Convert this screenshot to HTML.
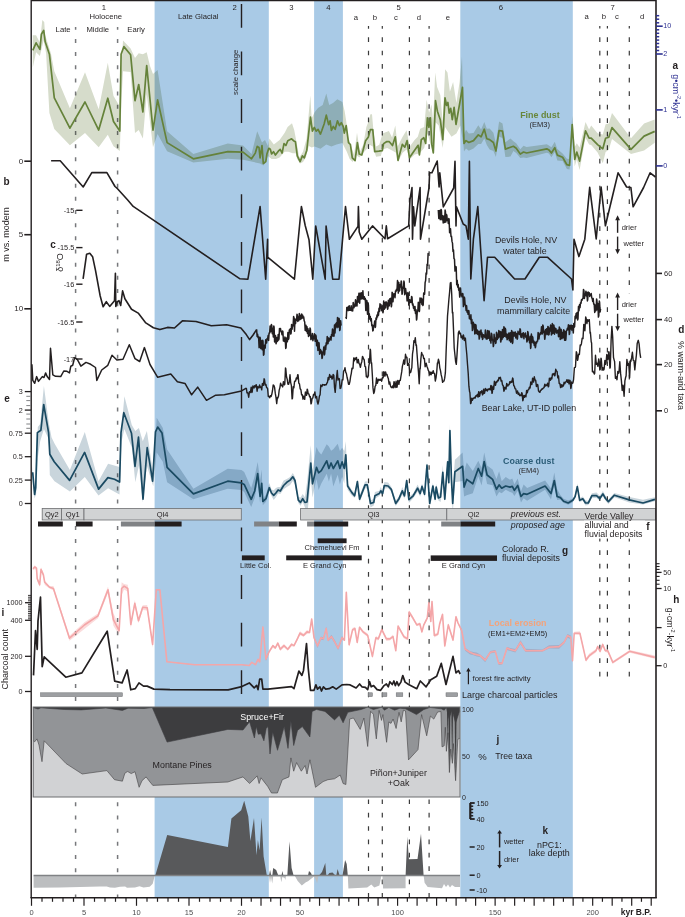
<!DOCTYPE html>
<html><head><meta charset="utf-8"><style>
html,body{margin:0;padding:0;background:#fff;}
svg{display:block;font-family:"Liberation Sans",sans-serif;}
</style></head><body>
<svg width="685" height="917" viewBox="0 0 685 917">
<rect x="0" y="0" width="685" height="917" fill="#ffffff" />
<rect x="154.6" y="0.5" width="114.20000000000002" height="896.8" fill="#a9cae6" />
<rect x="314.1" y="0.5" width="28.799999999999955" height="896.8" fill="#a9cae6" />
<rect x="460.3" y="0.5" width="112.49999999999994" height="896.8" fill="#a9cae6" />
<line x1="75.6" y1="27.1" x2="75.6" y2="897.5" stroke="#77787b" stroke-width="1.5" stroke-dasharray="4 9.163" stroke-dashoffset="1.36"/>
<line x1="117.6" y1="27.1" x2="117.6" y2="897.5" stroke="#77787b" stroke-width="1.5" stroke-dasharray="4 9.163" stroke-dashoffset="1.36"/>
<line x1="368.5" y1="26" x2="368.5" y2="897.5" stroke="#3a3a3a" stroke-width="1.2" stroke-dasharray="4.7 8.67" stroke-dashoffset="2.07"/>
<line x1="382.3" y1="26" x2="382.3" y2="897.5" stroke="#3a3a3a" stroke-width="1.2" stroke-dasharray="4.7 8.67" stroke-dashoffset="2.07"/>
<line x1="409.4" y1="26" x2="409.4" y2="897.5" stroke="#3a3a3a" stroke-width="1.2" stroke-dasharray="4.7 8.67" stroke-dashoffset="2.07"/>
<line x1="429.1" y1="26" x2="429.1" y2="897.5" stroke="#3a3a3a" stroke-width="1.2" stroke-dasharray="4.7 8.67" stroke-dashoffset="2.07"/>
<line x1="599.8" y1="26" x2="599.8" y2="677" stroke="#3a3a3a" stroke-width="1.2" stroke-dasharray="4.7 8.8" stroke-dashoffset="2.2"/>
<line x1="607.4" y1="26" x2="607.4" y2="677" stroke="#3a3a3a" stroke-width="1.2" stroke-dasharray="4.7 8.8" stroke-dashoffset="2.2"/>
<line x1="629.3" y1="26" x2="629.3" y2="677" stroke="#3a3a3a" stroke-width="1.2" stroke-dasharray="4.7 8.8" stroke-dashoffset="2.2"/>
<line x1="241.5" y1="3.9" x2="241.5" y2="707" stroke="#231f20" stroke-width="1.4" stroke-dasharray="23.8 23.8"/>
<g style="mix-blend-mode:multiply">
<polygon points="32.8,35.2 36.1,35.2 39.9,42.8 42.3,20.0 44.2,21.9 45.2,35.2 50.9,53.2 54.3,71.2 69.9,108.3 85.0,72.2 98.7,109.2 107.8,62.7 113.5,95.9 119.2,105.4 121.0,75.0 123.0,40.5 130.6,48.5 135.0,58.0 138.7,53.2 142.9,54.2 146.7,52.3 150.0,66.0 153.0,74.0 157.6,70.0 167.1,131.2 193.3,154.0 227.8,143.6 243.0,145.5 251.5,154.0 257.2,131.2 262.0,142.6 265.0,140.0 267.9,145.9 269.4,138.6 273.8,144.5 279.6,140.1 284.7,132.8 287.6,126.9 292.0,123.3 294.2,129.9 296.4,141.5 299.3,157.6 303.0,151.8 306.6,138.6 310.3,95.5 311.7,118.2 314.6,112.3 318.0,108.0 322.7,105.0 326.3,93.4 329.2,105.0 333.0,103.0 337.3,99.2 342.4,102.1 344.6,110.9 346.0,119.6 348.2,137.2 351.1,145.9 354.1,154.7 357.0,132.8 359.9,151.8 363.2,144.7 366.4,127.1 368.8,120.7 370.4,114.2 372.0,114.2 373.7,133.5 376.1,146.4 379.3,144.7 382.5,133.5 388.9,131.1 392.1,137.5 395.3,125.5 397.7,146.4 402.6,136.7 406.6,130.3 409.8,146.4 414.6,139.9 417.8,136.7 420.2,128.7 424.2,127.1 426.6,99.8 429.1,112.6 431.5,104.6 433.1,120.7 435.2,72.5 437.1,86.9 440.3,95.0 442.7,122.3 445.1,69.3 447.5,72.5 449.9,91.8 453.1,82.1 456.4,103.0 459.6,82.1 462.0,56.4 463.6,127.1 464.0,134.6 466.0,129.7 468.8,133.5 473.5,133.0 478.3,125.3 481.1,129.6 484.3,122.0 486.8,128.8 489.6,128.4 493.4,132.8 495.9,143.5 499.1,121.4 502.5,123.5 505.4,142.2 510.5,138.5 513.4,141.3 516.2,143.2 520.3,149.2 523.5,145.8 526.6,147.1 546.8,144.3 548.9,145.4 551.4,147.3 554.8,141.8 557.3,149.0 562.6,153.5 566.9,158.7 569.6,159.1 572.2,115.8 574.7,146.9 576.8,143.3 579.6,147.5 585.5,121.9 589.1,129.4 591.2,125.6 597.6,133.3 602.8,134.4 605.6,124.3 608.8,123.5 612.0,113.0 631.0,138.3 644.1,123.5 654.7,119.4 654.7,142.8 644.1,150.4 631.0,154.0 612.0,139.1 608.8,149.7 605.6,152.1 602.8,163.3 597.6,152.4 591.2,144.9 589.1,144.4 585.5,137.8 579.6,170.1 576.8,159.3 574.7,166.5 572.2,133.0 569.6,169.6 566.9,169.1 562.6,161.1 557.3,160.4 554.8,151.9 551.4,157.3 548.9,153.4 546.8,152.7 526.6,158.0 523.5,157.6 520.3,158.1 516.2,153.1 513.4,151.1 510.5,156.6 505.4,157.0 502.5,138.1 499.1,136.7 495.9,157.1 493.4,151.0 489.6,149.5 486.8,144.9 484.3,138.4 481.1,144.0 478.3,144.1 473.5,148.6 468.8,150.8 466.0,148.5 464.0,151.6 463.6,146.4 460.4,125.5 456.4,133.5 451.5,136.7 448.3,131.9 445.1,127.1 442.7,148.0 438.7,125.5 435.5,122.3 433.1,152.8 430.7,144.7 427.4,133.5 424.2,148.0 419.4,153.6 414.6,154.4 409.8,159.2 406.6,149.6 402.6,152.8 398.5,160.8 396.1,152.8 392.1,150.4 387.3,148.0 382.5,149.6 380.9,156.0 376.1,156.8 372.8,146.4 369.6,144.7 366.4,149.6 363.2,152.8 359.2,157.6 356.2,154.7 352.6,162.0 349.7,159.0 346.8,151.8 342.4,143.0 336.5,144.5 331.4,146.6 326.3,144.5 320.5,148.8 314.6,146.6 311.7,147.4 308.8,145.9 305.9,157.6 303.0,162.0 300.0,163.4 297.1,159.0 295.7,153.2 292.7,153.2 288.4,151.8 284.7,151.8 279.6,157.6 276.0,159.0 271.6,159.0 267.9,156.1 265.0,163.4 263.3,165.4 260.1,163.5 251.5,161.6 243.0,159.7 227.8,158.8 193.3,162.6 167.1,151.2 157.6,134.1 153.0,147.2 146.7,94.0 142.9,138.6 138.7,130.1 135.0,132.9 130.6,72.0 123.0,71.2 121.5,100.0 119.8,151.0 113.5,146.2 107.8,134.8 98.7,147.2 85.0,132.9 69.9,145.3 54.3,129.1 49.4,113.0 46.1,53.2 43.7,39.9 39.9,56.1 36.1,52.3 32.8,67.4" fill="#d6dccb" />
</g>
<polyline points="32.8,50.4 36.1,42.8 39.9,49.4 41.4,34.2 43.7,30.4 45.2,41.8 49.4,54.2 54.3,97.8 69.9,128.2 85.0,102.0 98.7,130.1 107.8,98.2 113.5,121.5 119.8,131.0 121.1,54.2 123.9,46.6 130.6,54.7 135.0,100.7 138.7,84.5 142.9,112.0 146.7,65.5 153.0,130.1 157.6,99.9 167.1,142.6 193.3,158.8 227.8,151.6 243.0,152.1 251.5,158.8 255.3,153.1 257.2,146.4 259.0,147.5 260.1,157.8 262.0,145.5 263.3,163.5 265.8,161.6 266.9,154.0 268.8,148.3 270.3,149.3 271.6,154.0 273.5,151.7 275.4,155.0 278.3,151.2 280.2,149.3 282.1,153.1 284.0,143.6 285.9,145.5 287.8,140.7 289.7,139.8 291.6,138.8 293.5,140.7 295.4,141.7 297.3,155.9 300.1,161.6 302.4,155.9 304.3,157.8 306.8,150.2 310.5,117.0 312.4,131.2 314.3,127.4 316.2,131.2 318.1,129.3 320.4,134.1 321.9,130.3 324.2,123.7 326.3,115.1 328.6,124.6 330.1,120.8 331.4,130.3 333.3,126.5 335.2,129.3 337.5,120.8 339.4,125.5 341.3,122.7 343.2,126.5 344.3,133.1 346.2,125.5 348.5,142.6 350.4,144.5 352.3,157.8 355.1,160.7 357.4,142.6 359.3,154.0 361.8,155.0 365.6,140.7 368.4,136.9 370.3,129.7 372.8,129.7 374.7,151.7 378.9,151.2 382.3,150.6 383.6,143.6 386.5,141.7 389.3,141.7 392.5,145.5 395.3,136.8 398.0,160.5 402.3,144.4 404.8,147.2 407.1,140.6 409.4,157.7 418.1,145.3 419.4,154.8 421.3,139.6 423.8,137.7 425.7,143.4 427.4,117.8 428.9,127.3 430.4,117.8 431.8,144.4 433.3,152.9 435.5,100.7 437.4,111.2 440.3,119.7 442.8,139.6 445.0,97.9 446.6,105.5 447.9,102.5 449.2,113.1 450.7,108.3 452.3,119.7 454.1,107.4 456.0,124.5 462.5,87.4 464.0,143.4 466.0,140.6 468.8,142.5 473.5,140.6 478.3,134.9 481.1,136.8 484.3,129.2 486.8,138.7 489.6,139.6 493.4,142.5 495.9,151.0 499.1,130.5 502.5,131.1 505.4,149.1 510.5,147.2 513.4,146.3 516.2,148.2 520.3,154.1 523.5,152.0 526.6,153.0 546.8,148.8 548.9,149.9 551.4,153.0 554.8,147.7 557.3,155.1 562.6,157.3 566.9,164.7 569.6,165.3 572.2,124.5 574.7,159.4 576.8,152.0 579.6,161.1 585.5,130.8 589.1,138.2 591.2,138.2 597.6,144.6 602.8,148.8 605.6,138.2 608.8,137.2 612.0,127.6 631.0,149.4 644.1,136.1 654.7,131.4" fill="none" stroke="#65823a" stroke-width="1.7" stroke-linejoin="round" />
<polyline points="51.1,160.8 60.2,160.8 83.2,187.0 91.8,172.6 106.9,172.6 115.0,186.5 117.5,188.7 127.7,200.0 133.2,206.4 240.0,278.8 247.9,279.2 260.1,206.5 265.7,279.2 267.6,239.3 267.6,257.2 294.4,279.2 301.4,206.5 305.2,225.5 309.0,239.7 312.8,279.2 315.7,226.0 325.2,279.2 326.1,226.0 332.7,279.2 339.0,279.2 345.5,206.5 349.4,239.3 358.0,226.4 358.4,206.5 359.2,232.0 361.8,239.3 372.5,225.9 385.0,238.8 386.3,225.9 387.6,238.8 408.7,225.9 410.0,199.3 412.0,187.6 412.5,239.2 413.5,206.9 414.8,225.9 420.1,187.6 420.5,239.2 429.0,188.0 429.6,172.8 431.9,172.8 437.2,161.0 439.1,187.0 439.8,172.8 443.3,206.9 453.7,188.0 455.0,161.4 456.0,225.9 456.5,206.9 463.2,224.0 466.0,225.9 468.3,239.2 469.4,161.4 470.8,279.0 473.4,239.2 477.8,206.6 484.1,300.8 487.5,257.2 494.7,257.2 514.6,279.0 525.0,279.0 539.3,257.2 547.4,257.2 571.5,279.0 572.9,290.0 574.0,239.2 578.9,256.6 584.8,239.2 589.7,187.3 596.2,239.0 601.1,187.0 605.4,225.8 618.1,172.8 626.6,187.0 630.9,187.5 633.1,206.8 643.6,187.5 650.1,172.8 655.5,177.0" fill="none" stroke="#231f20" stroke-width="1.6" stroke-linejoin="round" />
<polyline points="83.1,278.9 86.6,254.2 89.8,253.3 92.6,256.7 95.5,270.4 100.2,296.0 103.1,306.8 106.3,301.7 109.7,306.4 114.5,300.7 115.4,273.2 115.8,306.4 117.3,301.7 119.0,300.7 120.7,305.5 122.6,290.9 124.9,298.8 131.5,309.3 138.2,313.1 145.8,322.9 153.4,327.7 159.9,329.6 167.5,327.4 174.5,328.0 182.4,320.8 196.0,321.5 211.3,325.8 226.6,324.7 240.9,328.0 246.3,334.6 249.6,339.6 252.9,335.3 256.6,329.6" fill="none" stroke="#231f20" stroke-width="1.6" stroke-linejoin="round" />
<polyline points="256.6,329.4 257.1,336.5 257.6,334.3 258.1,337.6 258.6,336.9 259.1,347.8 259.5,346.9 260.0,337.3 260.3,338.2 260.8,348.6 261.3,340.5 261.7,341.2 262.2,349.8 262.7,340.2 263.0,341.3 263.5,355.3 263.9,354.4 264.4,345.2 264.7,345.8 265.2,348.1 265.7,339.8 266.1,340.5 266.6,342.9 267.1,338.4 267.6,339.1 268.1,335.5 268.6,340.4 269.1,332.9 269.6,333.2 270.1,326.1 270.4,326.8 270.9,331.7 271.4,324.6 271.8,325.6 272.3,333.8 272.8,328.6 273.3,337.0 273.8,326.0 274.1,327.2 274.6,341.9 275.0,340.9 275.5,335.6 276.0,343.8 276.3,342.7 276.8,337.5 277.3,341.5 277.7,340.8 278.2,334.4 278.7,339.9 279.0,338.9 279.5,328.4 280.0,329.7 280.5,328.5 281.0,331.7 281.5,331.9 282.0,334.7 282.5,330.9 282.9,331.7 283.4,341.0 283.9,339.1 284.4,341.4 284.9,337.1 285.2,337.7 285.7,348.4 286.1,347.4 286.6,338.0 287.1,342.0 287.4,341.4 287.9,332.6 288.4,339.4 288.8,338.5 289.3,330.1 289.8,330.6 290.3,328.7 290.8,334.1 291.1,333.3 291.6,324.4 292.1,329.2 292.6,325.2 293.1,325.8 293.6,316.6 294.0,317.7 294.5,331.3 295.0,319.0 295.5,323.6 296.0,319.3 296.5,320.4 297.0,314.3 297.3,315.1 297.8,321.5 298.3,316.9 298.8,320.6 299.3,313.6 299.7,314.3 300.2,319.5 300.7,316.1 301.2,318.8 301.7,314.1 302.2,317.9 302.7,315.3 303.2,317.9 303.7,317.0 304.2,320.8 304.7,322.0 305.2,330.4 305.5,329.4 306.0,325.3 306.5,331.4 307.0,326.8 307.5,333.4 308.0,328.7 308.5,336.5 309.0,330.7 309.5,335.4 310.0,328.0 310.4,329.1 310.9,339.6 311.4,335.9 311.9,338.8 312.4,333.6 312.9,340.7 313.4,336.6 313.9,338.7 314.4,333.7 314.7,334.5 315.2,341.3 315.7,335.0 316.1,336.0 316.6,345.7 317.1,340.1 317.4,340.7 317.9,350.4 318.3,349.7 318.8,342.5 319.1,343.2 319.6,354.3 320.0,353.4 320.5,349.5 321.0,352.7 321.5,351.2 322.0,358.5 322.3,357.7 322.8,351.9 323.3,352.2 323.8,347.0 324.3,354.9 324.7,354.0 325.2,345.8 325.7,349.5 326.2,342.8 326.7,344.8 327.2,336.5 327.5,337.5 328.0,343.6 328.5,337.9 329.0,341.2 329.5,338.8 330.0,339.4 330.5,336.7 331.0,340.1 331.5,334.5 332.0,335.5 332.5,329.0 333.0,336.3 333.5,330.3 334.0,336.1 334.5,325.1 335.0,333.0 335.5,324.1 336.0,324.2 336.5,322.7 337.0,327.7 337.5,317.5 337.9,318.4 338.4,327.0 338.9,318.2 339.2,318.9 339.7,330.6 340.1,329.4 340.6,320.7 341.1,325.6" fill="none" stroke="#231f20" stroke-width="1.5" stroke-linejoin="round" />
<polyline points="345.8,316.8 346.3,318.4 346.8,307.4 347.2,308.4 347.7,310.6 348.2,306.7 348.7,310.5 349.2,305.7 349.7,310.2 350.2,308.3 350.7,310.3 351.2,305.7 351.7,310.7 352.2,309.4 352.7,310.9 353.2,302.6 353.5,303.5 354.0,307.7 354.5,305.0 355.0,306.3 355.5,299.7 356.0,305.7 356.5,301.2 357.0,306.0 357.5,296.4 357.9,297.2 358.4,302.1 358.9,293.2 359.2,294.4 359.7,303.2 360.2,293.1 360.6,294.1 361.1,299.1 361.6,292.7 361.9,293.4 362.4,298.4 362.9,290.7 363.4,299.1 363.8,298.3 364.3,296.7 364.8,299.7 365.3,298.5 365.8,310.5 366.1,309.3 366.6,300.2 367.0,301.1 367.5,314.3 368.0,302.8 368.3,304.0 368.8,317.9 369.3,313.8 369.8,319.3 370.3,316.5 370.8,321.0 371.3,318.8 371.8,325.8 372.3,325.0 372.8,330.9 373.2,330.3 373.7,325.2 374.2,325.2 374.7,321.0 375.2,327.5 375.5,326.7 376.0,318.1 376.5,319.2 377.0,315.1 377.5,316.9 378.0,312.0 378.5,315.2 379.0,308.3 379.5,311.4 380.0,303.8 380.5,308.0 381.0,304.7 381.5,310.7 381.9,310.1 382.4,306.2 382.9,312.7 383.2,311.7 383.7,300.9 384.2,309.3 384.6,308.7 385.1,302.6 385.6,307.8 386.1,301.8 386.6,304.5 387.1,302.9 387.6,309.2 387.9,308.3 388.4,300.3 388.9,306.1 389.3,305.5 389.8,298.8 390.3,303.5 390.8,298.2 391.3,306.8 391.6,305.7 392.1,292.2 392.5,293.1 393.0,301.7 393.5,294.0 394.0,296.5 394.5,293.7 395.0,297.7 395.5,291.0 396.0,291.5 396.5,289.2 397.0,290.1 397.5,280.6 397.8,281.7 398.3,293.1 398.8,282.4 399.3,291.1 399.7,290.5 400.2,284.4 400.7,287.1 401.2,281.0 401.5,281.8 402.0,294.2 402.4,293.0 402.9,286.9 403.4,288.2 403.9,281.1 404.2,282.2 404.7,294.7 405.1,293.8 405.6,288.5 406.1,292.9 406.6,293.1 407.1,300.9 407.4,300.0 407.9,292.6 408.3,293.3 408.8,305.1 409.1,304.2 409.6,299.8 410.1,302.3 410.6,300.0 411.1,302.6 411.6,296.4 412.0,297.3 412.5,305.0 413.0,304.0 413.5,308.2 414.0,306.4 414.5,310.5 415.0,306.5 415.5,313.5 416.0,309.8 416.5,320.0 416.8,319.0 417.3,311.3 417.8,310.7 418.3,302.2 418.7,303.2 419.2,311.6 419.5,310.9 420.0,297.9 420.4,298.8 420.9,302.6 421.4,298.3 421.9,304.4 422.4,299.2 422.9,305.6 423.2,304.7 423.7,293.0 424.1,293.6 424.6,294.2 425.1,282.7 425.6,280.6 426.1,272.9 426.6,274.0 427.1,264.2 427.6,265.4 428.1,253.5 428.4,254.5" fill="none" stroke="#231f20" stroke-width="1.5" stroke-linejoin="round" />
<polyline points="438.3,210.0 438.8,218.5 439.2,217.6 439.7,210.6 440.2,219.8 440.5,219.0 441.0,209.4 441.4,210.2 441.9,219.8 442.2,219.2 442.7,215.8 443.2,223.0 443.6,222.0 444.1,215.9 444.6,222.5 445.1,210.1 445.4,211.3 445.9,221.9 446.4,214.5 446.8,215.1 447.3,220.4 447.8,219.2 448.3,223.4 448.8,218.6 449.1,219.2 449.6,232.8 450.0,231.8 450.5,228.8 451.0,236.5 451.5,236.2 452.0,241.4 452.5,243.1 453.0,251.5 453.5,250.0 454.0,258.6 454.5,259.2 455.0,271.1 455.3,270.2 455.8,266.4 456.2,267.4 456.7,284.7 457.2,280.2 457.7,287.1 458.2,284.6 458.7,290.3 459.2,288.1 459.7,297.1 460.0,296.1 460.5,288.1 461.0,294.0 461.5,294.8 462.0,296.8 462.5,293.4 462.9,294.0 463.4,306.6 463.7,305.6 464.2,297.1 464.6,297.8 465.1,304.8 465.6,304.9 466.1,310.5 466.6,305.8 467.1,312.3 467.6,310.7 468.1,314.3 468.6,310.4 468.9,311.0 469.4,318.6 469.9,318.3 470.4,319.5 470.9,314.8 471.4,323.6 471.9,319.5 472.4,330.6 472.8,329.5 473.3,322.3 473.8,326.3 474.3,324.3 474.8,333.9 475.1,333.0 475.6,324.6 476.0,325.2 476.5,333.6 476.8,332.9 477.3,330.0 477.8,334.5 478.2,333.9 478.7,331.2 479.2,339.1 479.5,338.0 480.0,331.3 480.5,334.3 481.0,330.0 481.5,337.0 482.0,333.1 482.5,339.5 482.9,338.7 483.4,334.8 483.9,335.5 484.4,335.0 484.9,337.6 485.4,330.1 485.7,331.0 486.2,338.9 486.7,336.2 487.2,338.9 487.7,330.4 488.1,331.5 488.6,338.3 489.1,331.0 489.4,332.1 489.9,340.6 490.4,337.2 490.9,343.1 491.4,333.3 491.8,334.2 492.3,340.1 492.8,339.7 493.3,346.6 493.6,345.6 494.1,334.3 494.6,341.3 495.1,338.1 495.6,343.5 496.0,342.8 496.5,332.3 496.8,333.2 497.3,339.5 497.8,334.6 498.3,338.0 498.8,330.5 499.2,331.5 499.7,336.9 500.2,331.6 500.7,342.0 501.0,341.0 501.5,332.0 502.0,339.5 502.5,329.4 503.0,337.7 503.4,337.0 503.9,326.7 504.2,327.8 504.7,336.2 505.2,328.2 505.6,329.2 506.1,337.2 506.6,334.1 507.1,339.7 507.4,339.1 507.9,334.3 508.4,338.4 508.9,332.9 509.4,340.7 509.8,340.0 510.3,332.8 510.8,342.2 511.1,341.3 511.6,330.6 512.0,331.4 512.5,343.4 512.8,342.3 513.3,332.3 513.8,336.0 514.3,332.5 514.8,336.1 515.3,331.9 515.8,337.9 516.2,337.3 516.7,333.6 517.2,339.3 517.5,338.5 518.0,331.2 518.5,333.7 519.0,333.0 519.5,334.6 520.0,328.8 520.4,329.6 520.9,337.1 521.4,334.1 521.9,337.6 522.4,333.5 522.9,335.8 523.4,332.7 523.9,338.8 524.4,334.2 524.9,336.0 525.4,333.0 525.9,337.3 526.4,336.0 526.9,342.0 527.2,341.3 527.7,331.5 528.1,332.5 528.6,339.9 529.1,338.4 529.6,342.8 530.1,336.2 530.6,348.4 530.9,347.2 531.4,334.1 531.9,342.3 532.4,336.5 532.8,337.4 533.3,343.1 533.8,341.0 534.3,345.5 534.8,342.2 535.3,347.7 535.6,347.0 536.1,342.0 536.6,343.0 537.1,341.1 537.6,341.1 538.1,332.5 538.5,333.6 539.0,339.0 539.5,334.2 540.0,334.7 540.5,332.5 541.0,333.9 541.5,326.7 541.8,327.7 542.3,333.9 542.8,325.0 543.2,326.1 543.7,332.6 544.2,331.1 544.7,339.2 545.0,338.1 545.5,329.7 546.0,333.7 546.5,328.8 547.0,334.7 547.4,334.1 547.9,326.4 548.2,326.9 548.7,335.0 549.1,334.3 549.6,328.0 550.1,330.9 550.6,325.1 550.9,325.9 551.4,335.0 551.8,334.3 552.3,323.6 552.6,324.6 553.1,333.3 553.6,324.9 554.0,325.8 554.5,334.2 555.0,328.0 555.5,332.0 556.0,328.8 556.5,333.1 557.0,330.7 557.5,332.7 558.0,330.0 558.5,336.8 558.8,336.1 559.3,327.0 559.7,328.1 560.2,339.5 560.5,338.9 561.0,329.2 561.4,330.3 561.9,338.7 562.4,332.6 562.7,333.3 563.2,337.8 563.7,329.7 564.1,330.6 564.6,340.2 565.1,331.6 565.6,340.2 565.9,339.0 566.4,330.9 566.9,330.2 567.4,328.3 567.9,329.7 568.4,324.8 568.8,325.5 569.3,334.6 569.6,333.8 570.1,325.2 570.5,325.8 571.0,329.0 571.5,325.3 572.0,330.4 572.5,324.9" fill="none" stroke="#231f20" stroke-width="1.5" stroke-linejoin="round" />
<polyline points="572.8,325.5 573.3,333.0 573.8,323.5 574.3,327.2 574.6,326.6 575.1,316.2 575.6,318.6 576.1,313.5 576.6,317.8 577.1,312.5 577.6,319.9 578.0,318.7 578.5,306.4 579.0,310.8 579.5,304.7 580.0,307.6 580.5,302.8 581.0,303.3 581.5,299.7 582.0,300.2 582.5,298.7 583.0,298.5 583.5,289.4 583.9,290.6 584.4,298.5 584.9,294.8 585.4,295.4 585.9,291.3 586.4,295.9 586.9,292.5 587.4,300.9 587.7,299.8 588.2,291.9 588.7,294.0 589.2,292.7 589.7,296.4 590.2,294.4 590.7,295.2 591.2,293.5 591.7,297.7 592.2,298.4 592.7,301.5 593.2,298.5 593.7,304.1 594.2,304.0 594.7,312.4 595.2,305.1 595.7,310.9 596.1,310.2 596.6,298.9 596.9,300.2 597.4,309.8 597.9,303.6 598.4,317.1 598.8,315.8 599.3,301.1 599.6,302.3 600.1,312.0 600.6,309.0" fill="none" stroke="#231f20" stroke-width="1.5" stroke-linejoin="round" />
<polyline points="31.9,364.3 32.8,380.4 34.7,383.3 36.6,376.6 38.5,381.4 42.3,376.6 44.0,377.5 45.6,372.9 47.0,376.3 49.5,379.5 50.5,348.2 52.8,374.8 55.6,376.3 60.7,376.6 63.8,371.0 67.0,371.3 69.5,372.9 70.8,366.2 72.7,365.3 74.6,357.7 77.4,359.6 80.9,366.2 86.0,362.4 90.7,364.3 95.5,367.5 96.8,380.4 101.7,370.0 107.8,365.3 112.0,355.2 116.9,360.0 123.0,359.2 129.3,344.8 135.0,358.6 139.7,361.5 144.4,347.6 150.0,364.5 157.7,377.3 170.8,374.0 177.4,381.7 185.0,383.4 191.6,394.8 197.7,387.1 206.5,400.3 215.7,395.2 224.4,394.8 241.5,390.9 246.3,388.2" fill="none" stroke="#231f20" stroke-width="1.5" stroke-linejoin="round" />
<polyline points="246.3,387.8 247.0,392.9 247.7,392.8 248.0,393.4 248.7,397.2 249.4,391.8 250.1,392.6 250.5,392.0 251.2,387.1 251.9,392.5 252.2,392.0 252.9,385.9 253.3,386.5 254.0,388.0 254.7,385.7 255.4,387.0 256.1,384.6 256.4,385.1 257.1,391.2 257.8,386.6 258.2,387.1 258.9,387.9 259.6,384.9 260.3,387.3 261.0,387.0 261.7,389.8 262.4,383.5 262.7,384.1 263.4,385.3 264.1,378.8 264.5,379.5 265.2,385.1 265.9,384.4 266.6,387.7 267.3,388.0 267.6,388.5 268.3,396.5 269.0,396.3 269.7,397.8 270.4,395.6 271.1,396.5 271.8,394.3 272.5,390.5 273.2,384.9 273.9,385.6 274.6,387.6 275.3,393.4 276.0,397.4 276.7,403.6 277.4,397.5 277.8,398.1 278.5,396.2 279.2,390.1 279.9,387.6 280.6,383.1 281.3,385.5 282.0,385.2 282.7,386.9 283.4,381.6 283.7,382.2 284.4,384.9 284.8,384.2 285.5,367.9 285.8,368.7 286.5,376.8 287.2,379.2 287.9,384.1 288.6,384.2 289.3,381.9 290.0,374.7 290.7,382.6 291.4,385.7 292.1,398.9 292.5,398.1 293.2,386.7 293.9,387.8 294.6,381.1 294.9,381.5 295.6,381.0 296.3,377.9 297.0,378.9 297.7,374.6 298.1,375.0 298.8,383.1 299.5,384.0 300.2,388.8 300.9,389.7 301.6,394.8 302.3,394.8 303.0,399.2 303.7,396.2 304.0,396.6 304.7,399.4 305.4,392.0 305.8,392.7 306.5,395.4 307.2,389.2 307.5,389.6 308.2,393.9 308.9,393.9 309.6,396.9 310.3,396.6 311.0,403.9 311.4,403.1 312.1,398.3 312.8,398.1 313.5,394.4 314.2,394.7 314.9,391.9 315.6,397.9 315.9,397.2 316.6,396.4 317.3,401.7 318.0,404.0 318.7,401.1 319.4,396.2 320.1,394.6 320.8,385.0 321.2,385.7 321.9,386.4 322.6,384.5 323.3,385.0 324.0,384.6 324.7,385.2 325.4,384.6 326.1,384.9 326.8,383.4 327.5,382.1 328.2,377.4 328.9,379.7 329.6,374.5 329.9,375.1 330.6,377.4 331.3,376.1 332.0,379.1 332.4,378.7 333.1,374.5 333.8,375.2 334.5,387.2 335.2,392.4 335.9,383.8 336.6,376.8 337.3,370.5 338.0,380.1 338.3,379.3 339.0,378.6 339.4,379.0 340.1,388.5 340.8,388.1 341.5,384.8 342.2,379.7 342.9,379.8 343.6,371.1 344.3,370.4 345.0,367.8 345.7,372.1 346.4,373.5 347.1,377.5 347.8,380.2 348.5,384.2 349.2,384.2 349.9,381.6 350.6,376.6 351.3,373.3 352.0,368.2 352.7,368.7 353.0,368.1 353.7,358.0 354.4,360.8 355.1,358.0 355.8,359.3 356.5,357.5 357.2,362.8 357.6,362.2 358.3,359.4 359.0,363.6 359.7,364.3 360.4,367.3 361.1,363.8 361.8,361.7 362.5,356.4 362.8,356.8 363.5,358.8 364.2,359.7 364.9,366.4 365.6,366.9 366.3,376.6 366.7,376.0 367.4,377.6 368.1,376.2 368.8,366.4 369.5,362.4 370.2,349.3 370.5,350.0 371.2,363.5 371.6,362.9 372.3,374.2 373.0,387.9 373.7,393.5 374.4,391.7 375.1,386.4 375.8,385.4 376.5,378.0 377.2,383.3 377.5,382.8 378.2,379.3 378.9,380.4 379.6,379.4 380.3,380.3 381.0,379.0 381.7,381.2 382.4,377.6 383.1,377.8 383.8,371.6 384.2,372.3 384.9,376.2 385.6,371.9 386.3,374.9 387.0,374.4 387.7,377.1 388.4,378.8 389.1,384.1 389.8,382.0 390.5,386.0 391.2,387.3 391.9,387.8 392.6,386.0 393.3,387.8 394.0,381.6 394.3,382.1 395.0,387.5 395.4,386.9 396.1,381.3 396.8,387.3 397.1,386.8 397.8,380.4 398.2,381.0 398.9,384.4 399.6,380.4 400.3,380.3 401.0,376.0 401.7,371.9 402.4,366.1 403.1,363.6 403.8,360.0 404.5,364.2 404.8,363.4 405.5,354.3 406.2,357.5 406.9,357.2 407.6,365.4 408.0,365.0 408.7,363.5 409.0,364.1 409.7,373.2 410.4,371.6 410.8,372.2 411.5,368.5 411.8,368.0 412.5,354.0 413.2,349.4 413.9,340.8 414.6,342.4 415.3,337.7 416.0,345.5 416.4,344.8 417.1,354.5 417.8,364.1 418.5,372.4 419.2,383.7 419.9,368.3 420.2,368.9 420.9,358.6 421.6,352.5 422.3,354.9 423.0,355.2 423.7,358.6 424.4,358.5 425.1,366.7 425.5,365.9 426.2,363.2 426.9,366.2 427.6,368.0 428.3,370.4 429.0,371.6 429.7,374.6 430.4,372.1 431.1,374.8 431.8,372.1 432.5,373.3 433.2,370.7 433.9,373.2 434.6,373.8 435.3,381.0 436.0,377.9 436.7,372.2 437.4,363.0 437.7,363.4 438.4,359.3 439.1,361.6 439.8,367.8 440.5,370.7 441.2,374.9 441.9,377.7 442.6,382.3 443.3,381.2 444.0,381.1 444.7,378.2 445.4,372.4 446.1,352.1 446.8,334.8 447.5,316.1 448.2,308.0 448.9,299.3 449.6,292.1 450.3,283.1 451.0,282.4 451.7,294.1 452.4,312.9 452.8,312.4 453.5,329.3 454.2,348.0 454.9,354.5 455.6,361.5 456.3,364.4 457.0,354.9 457.7,343.2 458.4,332.7 459.1,331.0 459.8,333.9 460.5,333.3 461.2,337.6 461.9,336.1 462.6,339.1 463.3,334.9 463.6,335.5 464.3,340.5 465.0,337.9 465.4,338.3 466.1,347.0 466.8,354.5 467.5,364.2 468.2,373.1 468.9,386.2 469.6,391.8 469.9,392.5 470.6,403.6 471.0,403.2 471.7,398.3 472.4,400.3 473.1,398.1 473.8,398.5 474.5,397.3 475.2,398.0 475.9,395.8 476.6,396.1 477.3,394.4 478.0,397.1 478.7,391.6 479.4,396.4 479.7,395.8 480.4,391.8 481.1,392.8 481.8,390.6 482.5,394.8 482.9,394.3 483.6,389.3 484.3,393.4 484.6,393.0 485.3,388.4 486.0,390.6 486.7,389.3 487.4,391.1 488.1,388.9 488.8,389.4 489.5,388.7 490.2,389.9 490.9,385.4 491.3,385.8 492.0,393.4 492.3,392.6 493.0,386.2 493.7,389.2 494.4,381.3 494.8,382.0 495.5,385.3 496.2,382.0 496.9,382.2 497.6,380.1 498.3,380.8 499.0,377.5 499.7,378.4 500.4,377.3 501.1,381.0 501.8,380.6 502.5,384.8 503.2,385.7 503.9,391.2 504.2,390.7 504.9,387.2 505.3,387.5 506.0,389.1 506.7,383.4 507.0,384.0 507.7,386.1 508.4,384.7 509.1,384.7 509.8,381.7 510.5,383.0 511.2,381.3 511.9,382.2 512.6,378.0 513.0,378.7 513.7,385.5 514.4,386.3 515.1,388.9 515.8,389.0 516.5,393.2 516.8,392.8 517.5,390.9 518.2,394.3 518.9,393.1 519.6,395.6 520.3,394.9 521.0,395.7 521.7,392.6 522.1,393.1 522.8,400.7 523.1,400.0 523.8,395.4 524.5,397.4 525.2,395.3 525.9,396.8 526.6,390.5 527.3,392.9 528.0,389.9 528.7,389.7 529.4,387.2 530.1,388.0 530.8,381.9 531.2,382.4 531.9,384.5 532.6,378.2 532.9,378.7 533.6,382.0 534.3,376.8 535.0,379.9 535.7,380.4 536.4,386.5 536.8,386.1 537.5,384.5 537.8,384.9 538.5,390.9 539.2,391.9 539.9,392.3 540.6,390.2 541.3,390.1 542.0,388.7 542.7,389.0 543.4,387.8 544.1,387.5 544.8,384.1 545.5,386.1 546.2,384.9 546.9,385.6 547.6,383.1 548.3,386.9 548.7,386.3 549.4,378.1 549.7,378.6 550.4,380.3 551.1,377.8 551.8,378.9 552.5,373.9 553.2,374.8 554.0,373.4 554.7,375.9 555.0,375.4 555.7,369.3 556.4,370.9 557.1,371.6 557.8,377.9 558.5,375.9 559.2,383.5 559.9,383.5 560.6,387.6 561.3,384.6 562.0,387.0 562.7,384.9 563.4,386.0 564.1,382.2 564.8,383.7 565.5,382.0 566.2,381.9 566.9,379.6 567.6,382.2 568.3,380.0 569.0,383.9 569.7,380.1 570.1,380.6 570.8,388.5 571.1,387.7 571.8,381.9 572.5,383.9" fill="none" stroke="#231f20" stroke-width="1.4" stroke-linejoin="round" />
<polyline points="572.8,383.4 573.6,379.3 574.4,367.6 575.2,367.4 575.5,366.6 576.3,351.7 576.7,352.6 577.5,360.4 577.8,359.7 578.6,354.2 579.4,354.5 580.2,345.0 580.6,345.8 581.4,343.9 582.2,338.2 583.0,338.6 583.8,324.4 584.1,325.5 584.9,330.7 585.7,316.9 586.1,318.2 586.9,323.6 587.7,319.7 588.5,321.2 589.3,319.7 590.1,333.3 590.4,332.2 591.2,341.8 591.6,342.9 592.4,371.7 592.7,370.8 593.5,372.1 594.3,374.1 594.7,373.2 595.5,355.2 596.3,364.3 597.1,363.2 597.9,366.2 598.7,358.9 599.0,360.1 599.8,370.0 600.2,369.3 601.0,358.1 601.3,359.0 602.1,370.2 602.9,367.6 603.7,370.0 604.1,369.2 604.9,360.4 605.7,364.3 606.0,363.4 606.8,354.4 607.6,360.0 608.0,359.1 608.8,351.6 609.1,352.3 609.9,368.1 610.3,367.2 611.1,340.7 611.9,326.4 612.7,337.4 613.5,357.5 614.3,360.6 614.6,361.5 615.4,378.3 616.2,376.8 617.0,379.7 617.8,371.4 618.6,373.2 619.0,372.0 619.8,361.7 620.6,373.4 621.4,380.6 622.2,390.5 623.0,385.2 623.3,386.4 624.1,396.2 624.9,380.9 625.7,377.0 626.1,376.0 626.9,359.4 627.7,365.2 628.5,363.6 628.8,364.6 629.6,377.8 630.4,360.5 630.8,361.5 631.6,357.9 632.4,352.3 633.2,360.3 634.0,360.6 634.8,369.9 635.6,361.9 636.4,355.0 637.2,343.4 638.0,341.1 638.3,340.3 639.1,343.9 639.9,352.8 640.7,357.8" fill="none" stroke="#231f20" stroke-width="1.4" stroke-linejoin="round" />
<g style="mix-blend-mode:multiply">
<polygon points="32.5,466.0 34.5,490.0 36.1,478.0 37.8,427.0 40.2,424.0 43.9,386.1 48.8,422.9 51.5,437.2 54.5,443.4 69.9,469.9 84.8,432.1 98.5,481.2 108.1,463.8 119.5,466.9 121.6,427.0 124.4,396.3 131.8,425.0 135.3,431.1 138.9,428.0 142.8,441.3 146.9,431.1 153.2,474.0 156.7,417.8 162.8,428.0 167.1,449.4 193.4,488.8 227.7,468.7 241.5,470.0 244.2,472.0 251.2,488.1 254.7,475.9 257.7,461.9 260.1,479.9 261.7,469.4 262.8,498.7 266.0,494.5 269.3,483.0 271.5,489.6 273.7,490.2 275.9,488.1 278.1,487.0 280.3,487.0 283.6,480.4 286.8,479.1 290.1,477.0 292.8,472.9 295.0,476.9 298.3,497.0 300.5,497.5 302.7,494.0 304.9,497.3 307.0,482.4 310.8,445.2 312.5,470.7 316.5,447.1 318.6,451.5 321.3,454.6 326.7,444.3 328.9,446.5 331.1,450.8 333.3,449.3 337.7,443.8 339.9,451.0 342.1,447.7 344.3,450.9 345.8,441.2 347.6,483.3 351.9,489.9 354.6,493.1 357.4,479.4 359.6,495.6 365.1,481.6 367.3,481.2 370.5,500.7 373.8,498.6 374.9,492.1 379.3,490.8 380.8,487.1 382.6,491.4 384.3,482.0 388.1,482.4 391.3,486.7 395.7,500.6 399.0,496.5 402.3,487.1 404.5,492.4 406.7,477.9 408.9,496.6 413.2,493.6 417.6,484.6 420.2,489.9 422.0,483.5 424.6,490.7 427.0,462.1 429.7,500.0 432.9,482.7 435.1,497.0 436.2,483.8 438.4,494.8 440.6,491.2 442.8,464.9 444.8,494.6 447.7,457.6 448.8,478.0 449.9,423.9 451.4,472.2 452.7,488.6 454.9,459.7 462.6,452.4 464.1,471.6 466.7,462.5 472.8,471.0 478.3,460.7 481.6,468.0 484.2,452.6 487.1,465.6 492.6,469.6 496.5,479.0 499.1,471.3 501.7,481.2 505.7,477.1 510.0,479.7 512.3,478.4 514.4,484.2 517.7,478.4 521.0,491.3 523.6,484.6 527.1,488.1 545.1,480.6 551.0,488.4 554.3,472.4 557.1,489.0 560.4,494.9 563.6,498.7 568.2,500.6 572.8,498.5 575.1,494.5 577.3,483.6 579.7,497.9 582.8,496.5 585.5,500.3 588.3,501.1 591.9,493.2 596.5,492.6 599.8,495.8 602.9,491.1 605.5,495.7 608.4,499.5 614.4,492.9 629.3,496.9 643.0,499.8 654.9,497.2 654.9,501.2 643.0,504.4 629.3,502.5 614.4,497.3 608.4,504.1 605.5,500.7 602.9,496.3 599.8,500.8 596.5,498.0 591.9,498.0 588.3,505.0 585.5,505.6 582.8,500.8 579.7,502.0 577.3,488.9 575.1,498.8 572.8,502.2 568.2,504.7 563.6,503.1 560.4,499.5 557.1,500.1 554.3,485.3 551.0,499.5 545.1,489.7 527.1,500.8 523.6,498.2 521.0,502.4 517.7,490.7 514.4,496.0 512.3,492.8 510.0,492.1 505.7,489.8 501.7,493.3 499.1,491.9 496.5,496.4 492.6,485.2 487.1,483.9 484.2,470.5 481.6,485.4 478.3,476.3 472.8,493.2 466.7,495.3 464.1,496.6 462.6,480.9 454.9,482.2 452.7,514.3 451.4,481.9 449.9,433.6 448.8,487.6 447.7,465.8 444.8,502.1 442.8,475.5 440.6,502.0 438.4,500.6 436.2,490.7 435.1,502.3 432.9,489.8 429.7,505.6 427.0,467.8 424.6,497.0 422.0,489.5 420.2,496.8 417.6,491.7 413.2,498.3 408.9,503.0 406.7,484.3 404.5,498.8 402.3,494.7 399.0,501.4 395.7,505.9 391.3,491.9 388.1,488.2 384.3,488.5 382.6,497.1 380.8,493.2 379.3,496.1 374.9,498.8 373.8,505.6 370.5,507.4 367.3,488.7 365.1,488.2 359.6,501.9 357.4,485.2 354.6,498.1 351.9,495.8 347.6,489.8 345.8,466.1 344.3,483.5 342.1,476.8 339.9,484.6 337.7,474.7 333.3,486.6 331.1,473.6 328.9,481.5 326.7,473.8 321.3,483.6 318.6,490.1 316.5,478.9 312.5,497.6 310.8,478.9 307.0,518.2 304.9,507.3 302.7,502.0 300.5,505.8 298.3,503.1 295.0,484.5 292.8,480.9 290.1,485.1 286.8,487.1 283.6,489.2 280.3,494.1 278.1,493.5 275.9,497.3 273.7,500.0 271.5,495.9 269.3,491.1 266.0,501.7 262.8,505.2 261.7,489.3 260.1,503.6 257.7,481.7 254.7,497.9 251.2,507.1 244.2,492.0 241.5,490.0 227.7,488.8 193.4,499.3 167.1,482.3 162.8,461.8 156.7,452.6 153.2,486.3 146.9,465.8 142.8,502.6 138.9,465.8 135.3,482.2 131.8,447.4 124.4,429.0 121.6,441.3 119.5,494.4 108.1,488.3 98.5,495.5 84.8,477.1 69.9,491.4 54.5,481.2 49.8,475.0 48.8,439.3 43.9,429.0 40.2,441.3 37.8,457.7 36.1,494.0 34.5,498.5 32.5,478.0" fill="#c9d5dc" />
</g>
<polyline points="32.7,472.3 34.6,494.5 35.7,487.5 37.4,432.6 40.9,430.2 43.7,404.5 48.6,432.6 49.8,454.3 54.2,461.8 69.6,480.4 84.6,452.4 98.6,489.1 107.9,477.6 114.5,479.3 119.6,482.1 121.0,432.6 123.8,412.7 131.5,433.3 135.0,466.4 138.5,437.2 143.0,499.1 147.2,447.7 150.0,464.7 152.6,481.2 155.5,431.9 157.7,427.1 162.0,433.0 167.1,467.4 193.4,493.9 227.7,481.2 241.5,482.9 244.2,484.4 251.2,499.3 254.7,491.0 257.7,473.5 260.1,496.5 261.7,483.4 262.8,501.5 266.0,498.7 269.3,487.7 271.5,493.0 273.7,495.4 275.9,493.0 278.1,489.9 280.3,491.0 283.6,485.5 286.8,482.3 290.1,480.1 292.8,476.8 295.0,480.5 298.3,500.2 300.5,502.4 302.7,498.7 304.9,502.4 307.0,502.0 310.8,463.0 312.5,483.8 316.5,467.4 318.6,472.8 321.3,470.7 326.7,460.8 328.9,468.5 331.1,463.0 333.3,468.5 337.7,460.8 339.9,468.5 342.1,461.9 344.3,468.5 345.8,454.9 347.6,486.0 351.9,492.6 354.6,495.8 357.4,481.6 359.6,499.1 365.1,484.9 367.3,484.9 370.5,503.5 373.8,502.4 374.9,495.8 379.3,493.6 380.8,490.8 382.6,493.6 384.3,485.5 388.1,486.0 391.3,489.3 395.7,503.5 399.0,498.7 402.3,490.8 404.5,495.8 406.7,480.5 408.9,499.6 413.2,495.8 417.6,488.2 420.2,493.6 422.0,486.4 424.6,494.3 427.0,465.2 429.7,503.5 432.9,486.0 435.1,499.1 436.2,487.1 438.4,498.0 440.6,496.9 442.8,472.4 444.8,499.1 447.7,461.9 448.8,482.7 449.9,430.5 451.4,478.3 452.7,503.5 454.9,471.7 462.6,466.3 464.1,487.1 466.7,479.4 472.8,483.8 478.3,468.5 481.6,476.1 484.2,461.5 487.1,475.0 492.6,479.4 496.5,489.3 499.1,484.9 501.7,488.2 505.7,486.0 510.0,487.1 512.3,486.4 514.4,490.4 517.7,485.5 521.0,496.5 523.6,493.6 527.1,494.3 545.1,486.0 551.0,493.6 554.3,480.5 557.1,496.5 560.4,497.6 563.6,501.2 568.2,503.0 572.8,500.3 575.1,496.6 577.3,486.6 579.7,500.3 582.8,498.8 585.5,503.0 588.3,503.0 591.9,495.7 596.5,495.7 599.8,498.5 602.9,493.9 605.5,498.5 608.4,501.6 614.4,495.2 629.3,499.9 643.0,503.0 654.9,499.4" fill="none" stroke="#1a4a62" stroke-width="1.7" stroke-linejoin="round" />
<rect x="42.2" y="508.5" width="19.299999999999997" height="11.5" fill="#d1d3d4" stroke="#6d6e71" stroke-width="0.8"/>
<text x="51.85" y="514.5" font-size="7.5" fill="#231f20" text-anchor="middle" font-weight="normal" font-style="normal" dominant-baseline="central" >Qy2</text>
<rect x="61.5" y="508.5" width="22.5" height="11.5" fill="#d1d3d4" stroke="#6d6e71" stroke-width="0.8"/>
<text x="72.75" y="514.5" font-size="7.5" fill="#231f20" text-anchor="middle" font-weight="normal" font-style="normal" dominant-baseline="central" >Qy1</text>
<rect x="84" y="508.5" width="157.3" height="11.5" fill="#d1d3d4" stroke="#6d6e71" stroke-width="0.8"/>
<text x="162.65" y="514.5" font-size="7.5" fill="#231f20" text-anchor="middle" font-weight="normal" font-style="normal" dominant-baseline="central" >Ql4</text>
<rect x="300.6" y="508.5" width="146.2" height="11.5" fill="#d1d3d4" stroke="#6d6e71" stroke-width="0.8"/>
<text x="373.70000000000005" y="514.5" font-size="7.5" fill="#231f20" text-anchor="middle" font-weight="normal" font-style="normal" dominant-baseline="central" >Ql3</text>
<rect x="446.8" y="508.5" width="208.7" height="11.5" fill="#d1d3d4" stroke="#6d6e71" stroke-width="0.8"/>
<text x="473.6" y="514.5" font-size="7.5" fill="#231f20" text-anchor="middle" font-weight="normal" font-style="normal" dominant-baseline="central" >Ql2</text>
<rect x="38" y="521.5" width="24.799999999999997" height="5" fill="#231f20" />
<rect x="75.9" y="521.5" width="16.69999999999999" height="5" fill="#231f20" />
<rect x="120.9" y="521.5" width="33.69999999999999" height="5" fill="#808285" />
<rect x="154.6" y="521.5" width="27.0" height="5" fill="#231f20" />
<rect x="254.1" y="521.5" width="24.700000000000017" height="5" fill="#808285" />
<rect x="278.8" y="521.5" width="18.0" height="5" fill="#231f20" />
<rect x="307.1" y="521.5" width="7.0" height="5" fill="#808285" />
<rect x="314.1" y="521.5" width="34.099999999999966" height="5" fill="#231f20" />
<rect x="441.2" y="521.5" width="19.30000000000001" height="5" fill="#808285" />
<rect x="460.5" y="521.5" width="34.69999999999999" height="5" fill="#231f20" />
<rect x="317.7" y="538.4" width="28.9" height="4.8" fill="#231f20" />
<text x="332" y="547.6" font-size="7.5" fill="#231f20" text-anchor="middle" font-weight="normal" font-style="normal" dominant-baseline="central" >Chemehuevi Fm</text>
<rect x="241.9" y="555.4" width="22.8" height="4.9" fill="#231f20" />
<text x="255.7" y="565.6" font-size="7.5" fill="#231f20" text-anchor="middle" font-weight="normal" font-style="normal" dominant-baseline="central" >Little Col.</text>
<rect x="286.2" y="555.4" width="75.5" height="4.9" fill="#231f20" />
<text x="324.7" y="565.6" font-size="7.5" fill="#231f20" text-anchor="middle" font-weight="normal" font-style="normal" dominant-baseline="central" >E Grand Cyn</text>
<rect x="430.7" y="555.4" width="66.3" height="5.5" fill="#231f20" />
<text x="463.5" y="565.7" font-size="7.5" fill="#231f20" text-anchor="middle" font-weight="normal" font-style="normal" dominant-baseline="central" >E Grand Cyn</text>
<g style="mix-blend-mode:multiply">
<polygon points="33.0,567.4 34.7,565.2 36.5,566.7 37.2,577.0 39.7,583.3 41.0,567.2 43.4,572.9 44.7,580.4 49.6,585.9 53.4,585.9 69.5,635.8 84.4,622.3 98.0,613.4 108.0,586.6 113.4,613.0 119.1,626.2 121.6,582.3 124.1,584.1 127.8,584.7 130.8,622.1 134.8,599.9 138.5,617.5 142.7,605.2 147.2,605.0 152.6,641.1 156.3,589.4 159.9,589.4 166.9,661.5 194.7,664.4 241.8,664.4 249.3,665.3 251.8,662.0 255.5,664.5 258.0,658.9 259.7,661.6 262.9,625.5 265.9,657.8 269.1,650.1 272.9,644.4 275.3,646.8 277.8,641.7 280.3,647.3 284.0,644.0 287.8,647.9 291.5,642.7 294.0,644.5 297.7,637.0 300.0,631.3 303.5,633.6 307.0,630.0 309.5,631.1 311.7,617.6 314.0,636.5 317.5,644.7 321.0,636.6 323.4,637.6 326.2,626.4 328.0,638.9 331.5,634.8 335.0,640.4 338.1,646.7 342.0,636.1 344.4,638.5 346.3,591.0 349.1,642.8 352.6,627.8 354.9,627.2 357.2,641.2 359.6,626.0 363.1,630.5 367.7,633.6 372.4,655.1 375.9,635.8 378.3,637.8 381.8,627.6 386.4,637.6 389.9,637.5 393.0,634.6 395.8,649.3 398.1,624.7 403.9,635.1 407.5,637.8 409.1,610.3 412.1,615.1 416.8,623.5 419.8,622.6 421.9,630.5 423.8,623.9 427.3,616.4 428.9,601.3 430.8,619.7 432.0,599.6 434.3,633.7 437.8,632.6 439.7,622.6 442.5,613.1 444.8,644.3 448.3,623.1 453.0,638.1 456.0,615.2 458.0,621.3 461.7,629.0 465.1,647.7 470.1,651.2 473.5,652.1 476.8,652.6 480.2,654.5 485.2,658.5 490.3,651.1 495.3,649.9 498.7,661.9 502.0,661.9 507.0,646.9 510.4,648.0 515.4,649.1 520.5,640.3 525.5,648.8 542.3,649.5 549.0,645.3 559.1,644.9 564.1,640.9 567.5,634.1 570.8,635.4 572.5,659.6 574.2,631.7 579.9,631.2 586.0,658.0 589.3,653.6 596.0,649.0 597.7,645.1 600.1,649.6 602.7,642.6 605.3,649.2 607.8,649.3 612.8,660.9 629.6,650.0 654.8,655.6 654.8,658.8 629.6,652.8 612.8,663.8 607.8,652.8 605.3,652.0 602.7,645.8 600.1,653.3 597.7,647.8 596.0,652.6 589.3,657.2 586.0,662.0 579.9,635.1 574.2,634.7 572.5,662.6 570.8,639.2 567.5,637.7 564.1,643.8 559.1,648.7 549.0,648.4 542.3,651.8 525.5,652.1 520.5,644.3 515.4,652.5 510.4,651.1 507.0,649.9 502.0,664.6 498.7,665.0 495.3,652.4 490.3,653.4 485.2,662.3 480.2,656.9 476.8,656.6 473.5,655.3 470.1,654.4 465.1,650.8 461.7,632.5 458.0,624.3 456.0,618.5 453.0,641.5 448.3,626.5 444.8,648.0 442.5,615.9 439.7,625.4 437.8,635.6 434.3,637.4 432.0,602.8 430.8,622.9 428.9,604.8 427.3,619.8 423.8,625.9 421.9,633.5 419.8,625.3 416.8,626.1 412.1,618.8 409.1,613.6 407.5,640.2 403.9,638.5 398.1,627.9 395.8,651.9 393.0,638.1 389.9,640.4 386.4,640.9 381.8,630.9 378.3,640.6 375.9,639.7 372.4,658.3 367.7,637.0 363.1,633.4 359.6,628.7 357.2,643.9 354.9,630.4 352.6,631.3 349.1,646.8 346.3,594.1 344.4,641.3 342.0,639.5 338.1,650.1 335.0,643.9 331.5,638.2 328.0,641.6 326.2,629.8 323.4,640.2 321.0,639.4 317.5,647.9 314.0,638.8 311.7,620.5 309.5,633.6 307.0,634.0 303.5,636.8 300.0,635.2 297.7,640.1 294.0,646.8 291.5,646.2 287.8,650.8 284.0,647.5 280.3,650.9 277.8,644.9 275.3,649.3 272.9,647.7 269.1,653.0 265.9,661.2 262.9,628.9 259.7,662.2 258.0,659.6 255.5,665.0 251.8,662.6 249.3,665.9 241.8,664.9 194.7,665.0 166.9,662.0 159.9,590.2 156.3,590.2 152.6,648.1 147.2,610.5 142.7,609.9 138.5,623.2 134.8,605.8 130.8,628.1 127.8,591.8 124.1,589.6 121.6,595.2 119.1,634.7 113.4,625.8 108.0,592.9 98.0,618.2 84.4,629.0 69.5,640.8 53.4,590.4 49.6,588.6 44.7,585.0 43.4,576.8 41.0,570.9 39.7,587.1 37.2,581.0 36.5,569.7 34.7,569.3 33.0,570.2" fill="#fbdcdc" />
</g>
<polyline points="33.0,568.7 34.7,567.0 36.5,568.2 37.2,578.6 39.7,584.8 41.0,569.4 43.4,574.9 44.7,582.3 49.6,587.3 53.4,588.5 69.5,638.2 84.4,625.0 98.0,615.8 108.0,589.8 113.4,619.6 119.1,630.7 121.6,588.5 124.1,586.1 127.8,588.5 130.8,624.5 134.8,603.4 138.5,620.8 142.7,607.2 147.2,607.7 152.6,644.4 156.3,589.8 159.9,589.8 166.9,661.8 194.7,664.7 241.8,664.7 249.3,665.5 251.8,662.3 255.5,664.7 258.0,659.3 259.7,662.0 262.9,627.0 265.9,659.3 269.1,651.8 272.9,645.6 275.3,648.0 277.8,643.1 280.3,649.3 284.0,645.6 287.8,649.3 291.5,644.4 294.0,645.6 297.7,638.2 300.0,633.1 303.5,635.5 307.0,631.9 309.5,632.5 311.7,619.1 314.0,637.7 317.5,645.9 321.0,637.7 323.4,638.9 326.2,628.4 328.0,640.1 331.5,636.6 335.0,642.4 338.1,648.3 342.0,637.7 344.4,640.1 346.3,592.2 349.1,644.7 352.6,629.6 354.9,628.4 357.2,642.4 359.6,627.2 363.1,631.9 367.7,635.4 372.4,656.4 375.9,637.7 378.3,638.9 381.8,629.6 386.4,638.9 389.9,638.9 393.0,636.6 395.8,650.6 398.1,626.1 403.9,636.6 407.5,638.9 409.1,612.0 412.1,616.7 416.8,624.9 419.8,623.7 421.9,631.9 423.8,624.9 427.3,617.9 428.9,602.7 430.8,621.4 432.0,601.5 434.3,635.4 437.8,634.2 439.7,623.7 442.5,614.4 444.8,645.9 448.3,624.9 453.0,640.1 456.0,616.7 458.0,623.0 461.7,630.5 465.1,649.0 470.1,652.3 473.5,653.9 476.8,654.7 480.2,655.6 485.2,660.1 490.3,652.3 495.3,651.3 498.7,663.4 502.0,663.4 507.0,648.0 510.4,649.5 515.4,650.7 520.5,642.3 525.5,650.7 542.3,650.7 549.0,647.3 559.1,646.6 564.1,642.3 567.5,635.6 570.8,637.2 572.5,660.7 574.2,633.2 579.9,633.2 586.0,660.1 589.3,655.7 596.0,650.7 597.7,646.6 600.1,651.3 602.7,644.6 605.3,650.7 607.8,650.7 612.8,662.4 629.6,651.3 654.8,657.4" fill="none" stroke="#f4a6a8" stroke-width="1.6" stroke-linejoin="round" />
<polyline points="33.5,675.4 35.5,630.7 37.2,649.4 38.0,620.8 40.5,597.2 42.2,666.7 44.2,656.8 65.8,677.2 81.9,672.9 107.2,631.2 114.7,681.1 122.1,682.9 127.1,670.0 130.8,689.8 135.3,688.6 139.0,682.9 143.5,686.1 147.2,686.1 153.9,689.1 170.0,689.6 228.2,689.8 241.8,686.6 249.3,682.9 254.2,687.8 256.7,685.4 258.0,689.6 259.7,679.1 261.7,679.1 262.9,689.1 267.9,689.1 291.5,686.6 294.0,688.6 298.9,671.0 301.9,675.4 303.5,670.4 306.5,643.6 308.2,668.0 310.5,690.3 314.0,690.3 315.9,684.9 317.5,689.1 319.9,686.8 321.5,691.0 323.4,686.8 325.7,689.1 329.2,688.7 332.7,686.8 336.2,689.1 342.0,684.9 346.7,684.5 350.2,684.9 356.1,688.0 359.6,684.0 361.9,686.8 365.4,687.3 367.7,689.6 369.6,681.7 371.2,686.8 373.6,685.6 377.1,689.6 380.6,690.3 384.1,685.6 386.4,684.0 388.3,686.8 389.9,681.7 392.3,684.5 393.9,681.0 395.3,685.6 396.9,681.7 398.6,685.6 400.9,682.1 402.8,675.6 405.1,682.1 408.6,684.5 416.8,688.7 420.3,681.0 426.1,686.8 430.8,679.8 436.7,676.3 441.3,663.4 446.0,684.5 453.0,656.4 456.0,672.8 458.5,670.6 460.2,674.0" fill="none" stroke="#231f20" stroke-width="1.7" stroke-linejoin="round" />
<rect x="40.5" y="692.8" width="81.9" height="3.8" fill="#9d9fa2" stroke="#6d6e71" stroke-width="0.5"/>
<rect x="368.2" y="692.8" width="4.199999999999989" height="3.8" fill="#9d9fa2" stroke="#6d6e71" stroke-width="0.5"/>
<rect x="382.2" y="692.8" width="4.699999999999989" height="3.8" fill="#9d9fa2" stroke="#6d6e71" stroke-width="0.5"/>
<rect x="396.2" y="692.8" width="6.600000000000023" height="3.8" fill="#9d9fa2" stroke="#6d6e71" stroke-width="0.5"/>
<rect x="446" y="692.8" width="11.699999999999989" height="3.8" fill="#9d9fa2" stroke="#6d6e71" stroke-width="0.5"/>
<rect x="33.2" y="707" width="426.8" height="90" fill="#3d3d3f" />
<polygon points="33.2,707.6 38.0,709.0 41.0,707.8 50.0,708.5 64.2,709.5 81.2,709.9 105.9,708.0 122.4,710.4 128.0,708.2 144.0,708.5 152.3,707.6 167.1,742.1 227.8,729.4 243.0,730.0 249.6,721.8 254.4,738.0 256.3,726.6 258.2,734.2 261.0,733.8 263.9,740.8 266.2,728.5 268.0,726.6 270.0,754.0 272.7,732.0 277.5,750.3 280.0,741.8 284.2,726.6 288.0,748.4 290.9,720.9 293.7,745.5 297.5,730.4 302.3,726.6 309.9,737.0 312.1,711.4 316.5,709.5 325.0,711.4 334.5,719.9 339.3,715.2 343.1,722.8 347.8,712.3 361.1,709.5 367.7,707.2 373.4,709.5 382.0,707.2 384.4,710.2 388.8,707.5 394.6,710.2 400.0,708.2 405.5,708.8 416.5,714.6 423.8,709.5 430.0,707.5 441.3,708.8 444.2,710.2 446.4,707.6 449.1,718.5 452.0,710.0 455.6,722.9 458.9,713.1 460.0,710.9 460.0,797.0 33.2,797.0" fill="#929497" />
<polyline points="33.2,707.6 38.0,709.0 41.0,707.8 50.0,708.5 64.2,709.5 81.2,709.9 105.9,708.0 122.4,710.4 128.0,708.2 144.0,708.5 152.3,707.6 167.1,742.1 227.8,729.4 243.0,730.0 249.6,721.8 254.4,738.0 256.3,726.6 258.2,734.2 261.0,733.8 263.9,740.8 266.2,728.5 268.0,726.6 270.0,754.0 272.7,732.0 277.5,750.3 280.0,741.8 284.2,726.6 288.0,748.4 290.9,720.9 293.7,745.5 297.5,730.4 302.3,726.6 309.9,737.0 312.1,711.4 316.5,709.5 325.0,711.4 334.5,719.9 339.3,715.2 343.1,722.8 347.8,712.3 361.1,709.5 367.7,707.2 373.4,709.5 382.0,707.2 384.4,710.2 388.8,707.5 394.6,710.2 400.0,708.2 405.5,708.8 416.5,714.6 423.8,709.5 430.0,707.5 441.3,708.8 444.2,710.2 446.4,707.6 449.1,718.5 452.0,710.0 455.6,722.9 458.9,713.1 460.0,710.9" fill="none" stroke="#3d3d3f" stroke-width="0.6" stroke-linejoin="round" />
<polygon points="33.2,740.8 34.7,741.8 37.0,738.9 39.0,745.0 42.0,761.7 44.2,740.8 66.1,763.6 82.2,774.0 106.9,770.6 114.5,779.7 122.4,781.2 124.9,773.1 127.7,771.5 131.2,773.6 135.0,771.7 139.1,787.3 142.0,780.7 146.1,776.9 150.0,782.0 152.8,785.4 227.8,782.0 243.0,776.9 249.6,783.5 257.2,775.9 259.1,783.5 261.0,777.8 267.7,786.4 271.5,793.0 277.4,793.0 282.3,779.7 289.0,776.9 290.9,757.9 293.7,771.2 296.6,762.6 301.3,771.2 305.1,765.5 307.0,774.0 309.9,759.8 315.5,787.3 323.1,781.6 327.9,779.7 334.5,778.8 340.2,775.0 343.1,783.5 345.9,784.5 349.7,719.0 353.5,718.0 360.2,729.4 363.9,718.0 367.7,746.5 370.6,711.4 373.4,714.2 376.3,738.9 379.1,710.4 381.5,720.4 382.9,714.6 386.6,742.3 388.8,721.9 391.0,723.4 393.1,719.0 396.1,728.5 399.0,712.4 401.2,721.9 403.4,710.2 405.5,711.0 408.5,759.9 418.0,749.6 421.6,714.6 426.7,735.8 430.4,716.1 433.8,719.1 437.6,712.0 440.9,711.5 442.0,746.9 444.2,745.8 445.3,727.3 446.4,751.3 448.0,732.7 449.4,772.5 450.7,749.1 452.4,763.3 453.4,743.6 455.6,780.7 457.8,739.3 460.0,738.2 460.0,797.0 33.2,797.0" fill="#d1d2d4" />
<polyline points="33.2,740.8 34.7,741.8 37.0,738.9 39.0,745.0 42.0,761.7 44.2,740.8 66.1,763.6 82.2,774.0 106.9,770.6 114.5,779.7 122.4,781.2 124.9,773.1 127.7,771.5 131.2,773.6 135.0,771.7 139.1,787.3 142.0,780.7 146.1,776.9 150.0,782.0 152.8,785.4 227.8,782.0 243.0,776.9 249.6,783.5 257.2,775.9 259.1,783.5 261.0,777.8 267.7,786.4 271.5,793.0 277.4,793.0 282.3,779.7 289.0,776.9 290.9,757.9 293.7,771.2 296.6,762.6 301.3,771.2 305.1,765.5 307.0,774.0 309.9,759.8 315.5,787.3 323.1,781.6 327.9,779.7 334.5,778.8 340.2,775.0 343.1,783.5 345.9,784.5 349.7,719.0 353.5,718.0 360.2,729.4 363.9,718.0 367.7,746.5 370.6,711.4 373.4,714.2 376.3,738.9 379.1,710.4 381.5,720.4 382.9,714.6 386.6,742.3 388.8,721.9 391.0,723.4 393.1,719.0 396.1,728.5 399.0,712.4 401.2,721.9 403.4,710.2 405.5,711.0 408.5,759.9 418.0,749.6 421.6,714.6 426.7,735.8 430.4,716.1 433.8,719.1 437.6,712.0 440.9,711.5 442.0,746.9 444.2,745.8 445.3,727.3 446.4,751.3 448.0,732.7 449.4,772.5 450.7,749.1 452.4,763.3 453.4,743.6 455.6,780.7 457.8,739.3 460.0,738.2" fill="none" stroke="#414042" stroke-width="0.6" stroke-linejoin="round" />
<polygon points="448.3,711.0 449.4,772.5 450.4,711.0" fill="#3d3d3f" />
<polygon points="451.3,709.0 452.2,762.0 453.1,709.0" fill="#3d3d3f" />
<polygon points="454.6,712.0 455.6,780.7 456.6,712.0" fill="#3d3d3f" />
<polygon points="446.9,708.0 447.6,745.0 448.3,708.0" fill="#3d3d3f" />
<rect x="33.2" y="707" width="426.8" height="90" fill="none" stroke="#6d6e71" stroke-width="1"/>
<text x="262.1" y="717.4" font-size="8.9" fill="#ffffff" text-anchor="middle" font-weight="normal" font-style="normal" dominant-baseline="central" >Spruce+Fir</text>
<text x="182.2" y="765.2" font-size="8.9" fill="#231f20" text-anchor="middle" font-weight="normal" font-style="normal" dominant-baseline="central" >Montane Pines</text>
<text x="398.4" y="772.7" font-size="8.9" fill="#231f20" text-anchor="middle" font-weight="normal" font-style="normal" dominant-baseline="central" >Piñon+Juniper</text>
<text x="398.6" y="783.2" font-size="8.9" fill="#231f20" text-anchor="middle" font-weight="normal" font-style="normal" dominant-baseline="central" >+Oak</text>
<polygon points="33.6,875.5 33.6,887.8 60.0,887.5 100.0,886.4 106.7,886.4 110.0,887.5 114.9,887.8 120.0,886.8 125.1,886.4 127.0,887.8 135.0,887.4 139.5,886.2 143.5,887.5 149.7,886.8 152.7,883.7 154.8,875.5" fill="#bcbec0" />
<polygon points="269.0,875.5 270.0,883.0 271.0,876.5 272.2,883.4 273.2,876.5 280.3,876.5 281.3,882.3 282.4,877.0 284.6,878.0 285.4,880.0 286.0,875.5" fill="#bcbec0" />
<polygon points="294.6,875.5 297.7,881.0 301.8,885.4 305.9,882.3 308.0,881.3 314.0,876.5 316.0,880.0 317.1,883.4 318.5,875.5" fill="#bcbec0" />
<polygon points="347.8,875.5 348.4,888.5 367.2,887.4 371.3,884.4 374.3,887.4 379.4,885.4 381.5,875.5 382.4,875.5 383.1,888.5 405.6,888.3 405.6,875.5" fill="#bcbec0" />
<polygon points="423.6,875.5 424.6,882.8 427.7,886.9 442.0,888.3 444.0,884.0 446.0,887.0 448.0,884.5 450.0,887.5 452.0,885.0 455.0,887.0 460.0,886.9 460.0,875.5" fill="#bcbec0" />
<polygon points="155.3,875.5 167.2,834.9 227.9,847.1 231.4,818.5 241.2,810.3 244.2,800.7 248.3,816.5 250.4,841.0 254.0,817.9 256.5,855.3 257.9,840.0 259.6,850.2 261.6,817.5 263.6,856.3 266.7,874.7 267.5,875.5" fill="#58595b" />
<polygon points="269.0,875.5 270.1,870.0 271.2,875.5" fill="#58595b" />
<polygon points="272.3,875.5 273.2,868.0 276.2,870.0 278.3,875.5" fill="#58595b" />
<polygon points="281.5,875.5 282.4,871.0 283.4,875.5" fill="#58595b" />
<polygon points="287.3,875.5 289.5,841.5 291.6,868.0 293.6,875.5" fill="#58595b" />
<polygon points="308.0,875.5 309.0,871.0 311.0,873.0 312.0,875.5" fill="#58595b" />
<polygon points="319.0,875.5 322.0,872.0 325.3,863.0 326.3,875.5" fill="#58595b" />
<polygon points="327.5,875.5 329.4,873.0 332.5,872.5 335.4,875.5" fill="#58595b" />
<polygon points="336.3,875.5 337.6,869.0 339.6,875.5" fill="#58595b" />
<polygon points="342.5,875.5 345.1,859.9 346.7,864.0 347.8,875.5" fill="#58595b" />
<polygon points="405.6,875.5 407.3,836.8 408.9,859.3 417.5,858.9 421.0,833.7 423.6,875.5" fill="#58595b" />
<line x1="33.6" y1="875.5" x2="460" y2="875.5" stroke="#808285" stroke-width="1.4" />
<line x1="31.2" y1="0.6" x2="656" y2="0.6" stroke="#231f20" stroke-width="1.3" />
<line x1="31.2" y1="0" x2="31.2" y2="898" stroke="#231f20" stroke-width="1.4" />
<line x1="656" y1="0" x2="656" y2="898" stroke="#231f20" stroke-width="1.6" />
<line x1="30.5" y1="897.8" x2="656.8" y2="897.8" stroke="#231f20" stroke-width="1.6" />
<line x1="31.5" y1="897.8" x2="31.5" y2="905.8" stroke="#231f20" stroke-width="1.2" />
<line x1="42.0" y1="897.8" x2="42.0" y2="901.8" stroke="#231f20" stroke-width="1.2" />
<line x1="52.5" y1="897.8" x2="52.5" y2="901.8" stroke="#231f20" stroke-width="1.2" />
<line x1="63.0" y1="897.8" x2="63.0" y2="901.8" stroke="#231f20" stroke-width="1.2" />
<line x1="73.5" y1="897.8" x2="73.5" y2="901.8" stroke="#231f20" stroke-width="1.2" />
<line x1="84.0" y1="897.8" x2="84.0" y2="905.8" stroke="#231f20" stroke-width="1.2" />
<line x1="94.5" y1="897.8" x2="94.5" y2="901.8" stroke="#231f20" stroke-width="1.2" />
<line x1="105.0" y1="897.8" x2="105.0" y2="901.8" stroke="#231f20" stroke-width="1.2" />
<line x1="115.5" y1="897.8" x2="115.5" y2="901.8" stroke="#231f20" stroke-width="1.2" />
<line x1="126.0" y1="897.8" x2="126.0" y2="901.8" stroke="#231f20" stroke-width="1.2" />
<line x1="136.5" y1="897.8" x2="136.5" y2="905.8" stroke="#231f20" stroke-width="1.2" />
<line x1="147.0" y1="897.8" x2="147.0" y2="901.8" stroke="#231f20" stroke-width="1.2" />
<line x1="157.5" y1="897.8" x2="157.5" y2="901.8" stroke="#231f20" stroke-width="1.2" />
<line x1="168.0" y1="897.8" x2="168.0" y2="901.8" stroke="#231f20" stroke-width="1.2" />
<line x1="178.5" y1="897.8" x2="178.5" y2="901.8" stroke="#231f20" stroke-width="1.2" />
<line x1="189.0" y1="897.8" x2="189.0" y2="905.8" stroke="#231f20" stroke-width="1.2" />
<line x1="199.5" y1="897.8" x2="199.5" y2="901.8" stroke="#231f20" stroke-width="1.2" />
<line x1="210.0" y1="897.8" x2="210.0" y2="901.8" stroke="#231f20" stroke-width="1.2" />
<line x1="220.5" y1="897.8" x2="220.5" y2="901.8" stroke="#231f20" stroke-width="1.2" />
<line x1="231.0" y1="897.8" x2="231.0" y2="901.8" stroke="#231f20" stroke-width="1.2" />
<line x1="241.5" y1="897.8" x2="241.5" y2="905.8" stroke="#231f20" stroke-width="1.2" />
<line x1="251.255" y1="897.8" x2="251.255" y2="901.8" stroke="#231f20" stroke-width="1.2" />
<line x1="261.01" y1="897.8" x2="261.01" y2="905.8" stroke="#231f20" stroke-width="1.2" />
<line x1="270.765" y1="897.8" x2="270.765" y2="901.8" stroke="#231f20" stroke-width="1.2" />
<line x1="280.52" y1="897.8" x2="280.52" y2="905.8" stroke="#231f20" stroke-width="1.2" />
<line x1="290.275" y1="897.8" x2="290.275" y2="901.8" stroke="#231f20" stroke-width="1.2" />
<line x1="300.03" y1="897.8" x2="300.03" y2="905.8" stroke="#231f20" stroke-width="1.2" />
<line x1="309.78499999999997" y1="897.8" x2="309.78499999999997" y2="901.8" stroke="#231f20" stroke-width="1.2" />
<line x1="319.54" y1="897.8" x2="319.54" y2="905.8" stroke="#231f20" stroke-width="1.2" />
<line x1="329.295" y1="897.8" x2="329.295" y2="901.8" stroke="#231f20" stroke-width="1.2" />
<line x1="339.05" y1="897.8" x2="339.05" y2="905.8" stroke="#231f20" stroke-width="1.2" />
<line x1="348.805" y1="897.8" x2="348.805" y2="901.8" stroke="#231f20" stroke-width="1.2" />
<line x1="358.56" y1="897.8" x2="358.56" y2="905.8" stroke="#231f20" stroke-width="1.2" />
<line x1="368.315" y1="897.8" x2="368.315" y2="901.8" stroke="#231f20" stroke-width="1.2" />
<line x1="378.07" y1="897.8" x2="378.07" y2="905.8" stroke="#231f20" stroke-width="1.2" />
<line x1="387.82500000000005" y1="897.8" x2="387.82500000000005" y2="901.8" stroke="#231f20" stroke-width="1.2" />
<line x1="397.58000000000004" y1="897.8" x2="397.58000000000004" y2="905.8" stroke="#231f20" stroke-width="1.2" />
<line x1="407.33500000000004" y1="897.8" x2="407.33500000000004" y2="901.8" stroke="#231f20" stroke-width="1.2" />
<line x1="417.09000000000003" y1="897.8" x2="417.09000000000003" y2="905.8" stroke="#231f20" stroke-width="1.2" />
<line x1="426.845" y1="897.8" x2="426.845" y2="901.8" stroke="#231f20" stroke-width="1.2" />
<line x1="436.6" y1="897.8" x2="436.6" y2="905.8" stroke="#231f20" stroke-width="1.2" />
<line x1="446.355" y1="897.8" x2="446.355" y2="901.8" stroke="#231f20" stroke-width="1.2" />
<line x1="456.11" y1="897.8" x2="456.11" y2="905.8" stroke="#231f20" stroke-width="1.2" />
<line x1="465.865" y1="897.8" x2="465.865" y2="901.8" stroke="#231f20" stroke-width="1.2" />
<line x1="475.62" y1="897.8" x2="475.62" y2="905.8" stroke="#231f20" stroke-width="1.2" />
<line x1="485.375" y1="897.8" x2="485.375" y2="901.8" stroke="#231f20" stroke-width="1.2" />
<line x1="495.13" y1="897.8" x2="495.13" y2="905.8" stroke="#231f20" stroke-width="1.2" />
<line x1="504.885" y1="897.8" x2="504.885" y2="901.8" stroke="#231f20" stroke-width="1.2" />
<line x1="514.64" y1="897.8" x2="514.64" y2="905.8" stroke="#231f20" stroke-width="1.2" />
<line x1="524.395" y1="897.8" x2="524.395" y2="901.8" stroke="#231f20" stroke-width="1.2" />
<line x1="534.1500000000001" y1="897.8" x2="534.1500000000001" y2="905.8" stroke="#231f20" stroke-width="1.2" />
<line x1="543.905" y1="897.8" x2="543.905" y2="901.8" stroke="#231f20" stroke-width="1.2" />
<line x1="553.6600000000001" y1="897.8" x2="553.6600000000001" y2="905.8" stroke="#231f20" stroke-width="1.2" />
<line x1="563.415" y1="897.8" x2="563.415" y2="901.8" stroke="#231f20" stroke-width="1.2" />
<line x1="573.1700000000001" y1="897.8" x2="573.1700000000001" y2="905.8" stroke="#231f20" stroke-width="1.2" />
<line x1="582.925" y1="897.8" x2="582.925" y2="901.8" stroke="#231f20" stroke-width="1.2" />
<line x1="592.6800000000001" y1="897.8" x2="592.6800000000001" y2="905.8" stroke="#231f20" stroke-width="1.2" />
<line x1="602.435" y1="897.8" x2="602.435" y2="901.8" stroke="#231f20" stroke-width="1.2" />
<line x1="612.19" y1="897.8" x2="612.19" y2="905.8" stroke="#231f20" stroke-width="1.2" />
<line x1="621.9449999999999" y1="897.8" x2="621.9449999999999" y2="901.8" stroke="#231f20" stroke-width="1.2" />
<line x1="631.7" y1="897.8" x2="631.7" y2="905.8" stroke="#231f20" stroke-width="1.2" />
<line x1="641.455" y1="897.8" x2="641.455" y2="901.8" stroke="#231f20" stroke-width="1.2" />
<line x1="651.21" y1="897.8" x2="651.21" y2="905.8" stroke="#231f20" stroke-width="1.2" />
<text x="31.5" y="912" font-size="7.5" fill="#4d4d4f" text-anchor="middle" font-weight="normal" font-style="normal" dominant-baseline="central" >0</text>
<text x="84.0" y="912" font-size="7.5" fill="#4d4d4f" text-anchor="middle" font-weight="normal" font-style="normal" dominant-baseline="central" >5</text>
<text x="136.5" y="912" font-size="7.5" fill="#4d4d4f" text-anchor="middle" font-weight="normal" font-style="normal" dominant-baseline="central" >10</text>
<text x="189.0" y="912" font-size="7.5" fill="#4d4d4f" text-anchor="middle" font-weight="normal" font-style="normal" dominant-baseline="central" >15</text>
<text x="241.5" y="912" font-size="7.5" fill="#4d4d4f" text-anchor="middle" font-weight="normal" font-style="normal" dominant-baseline="central" >20</text>
<text x="300.03" y="912" font-size="7.5" fill="#4d4d4f" text-anchor="middle" font-weight="normal" font-style="normal" dominant-baseline="central" >50</text>
<text x="397.58000000000004" y="912" font-size="7.5" fill="#4d4d4f" text-anchor="middle" font-weight="normal" font-style="normal" dominant-baseline="central" >100</text>
<text x="495.13" y="912" font-size="7.5" fill="#4d4d4f" text-anchor="middle" font-weight="normal" font-style="normal" dominant-baseline="central" >150</text>
<text x="592.6800000000001" y="912" font-size="7.5" fill="#4d4d4f" text-anchor="middle" font-weight="normal" font-style="normal" dominant-baseline="central" >200</text>
<text x="636" y="912" font-size="8.5" fill="#231f20" text-anchor="middle" font-weight="bold" font-style="normal" dominant-baseline="central" >kyr B.P.</text>
<text x="104" y="7.3" font-size="7.7" fill="#231f20" text-anchor="middle" font-weight="normal" font-style="normal" dominant-baseline="central" >1</text>
<text x="105.8" y="16.4" font-size="7.7" fill="#231f20" text-anchor="middle" font-weight="normal" font-style="normal" dominant-baseline="central" >Holocene</text>
<text x="63.1" y="29.2" font-size="7.7" fill="#231f20" text-anchor="middle" font-weight="normal" font-style="normal" dominant-baseline="central" >Late</text>
<text x="97.8" y="29.2" font-size="7.7" fill="#231f20" text-anchor="middle" font-weight="normal" font-style="normal" dominant-baseline="central" >Middle</text>
<text x="136.1" y="29.2" font-size="7.7" fill="#231f20" text-anchor="middle" font-weight="normal" font-style="normal" dominant-baseline="central" >Early</text>
<text x="198.2" y="16.4" font-size="7.7" fill="#231f20" text-anchor="middle" font-weight="normal" font-style="normal" dominant-baseline="central" >Late Glacial</text>
<text x="234.7" y="7.9" font-size="7.7" fill="#231f20" text-anchor="middle" font-weight="normal" font-style="normal" dominant-baseline="central" >2</text>
<text x="291.3" y="7.3" font-size="7.7" fill="#231f20" text-anchor="middle" font-weight="normal" font-style="normal" dominant-baseline="central" >3</text>
<text x="328.5" y="7.3" font-size="7.7" fill="#231f20" text-anchor="middle" font-weight="normal" font-style="normal" dominant-baseline="central" >4</text>
<text x="398.6" y="7.3" font-size="7.7" fill="#231f20" text-anchor="middle" font-weight="normal" font-style="normal" dominant-baseline="central" >5</text>
<text x="355.9" y="17" font-size="7.7" fill="#231f20" text-anchor="middle" font-weight="normal" font-style="normal" dominant-baseline="central" >a</text>
<text x="374.9" y="17" font-size="7.7" fill="#231f20" text-anchor="middle" font-weight="normal" font-style="normal" dominant-baseline="central" >b</text>
<text x="396" y="17" font-size="7.7" fill="#231f20" text-anchor="middle" font-weight="normal" font-style="normal" dominant-baseline="central" >c</text>
<text x="419" y="17" font-size="7.7" fill="#231f20" text-anchor="middle" font-weight="normal" font-style="normal" dominant-baseline="central" >d</text>
<text x="447.9" y="17" font-size="7.7" fill="#231f20" text-anchor="middle" font-weight="normal" font-style="normal" dominant-baseline="central" >e</text>
<text x="500.8" y="7.2" font-size="7.7" fill="#231f20" text-anchor="middle" font-weight="normal" font-style="normal" dominant-baseline="central" >6</text>
<text x="612.7" y="7.2" font-size="7.7" fill="#231f20" text-anchor="middle" font-weight="normal" font-style="normal" dominant-baseline="central" >7</text>
<text x="586.6" y="16.8" font-size="7.7" fill="#231f20" text-anchor="middle" font-weight="normal" font-style="normal" dominant-baseline="central" >a</text>
<text x="603.8" y="16.8" font-size="7.7" fill="#231f20" text-anchor="middle" font-weight="normal" font-style="normal" dominant-baseline="central" >b</text>
<text x="617" y="16.8" font-size="7.7" fill="#231f20" text-anchor="middle" font-weight="normal" font-style="normal" dominant-baseline="central" >c</text>
<text x="642.1" y="16.8" font-size="7.7" fill="#231f20" text-anchor="middle" font-weight="normal" font-style="normal" dominant-baseline="central" >d</text>
<text x="235.3" y="72.3" font-size="7.7" fill="#231f20" text-anchor="middle" font-weight="normal" font-style="normal" dominant-baseline="central" transform="rotate(-90 235.3 72.3)" >scale change</text>
<line x1="656" y1="165.9" x2="662.7" y2="165.9" stroke="#2e3192" stroke-width="1.6" />
<text x="663.3" y="165.4" font-size="7.2" fill="#2e3192" text-anchor="start" font-weight="normal" font-style="normal" dominant-baseline="central" >0</text>
<line x1="656" y1="109.9" x2="662.7" y2="109.9" stroke="#2e3192" stroke-width="1.6" />
<text x="663.3" y="109.4" font-size="7.2" fill="#2e3192" text-anchor="start" font-weight="normal" font-style="normal" dominant-baseline="central" >1</text>
<line x1="656" y1="54" x2="662.7" y2="54" stroke="#2e3192" stroke-width="1.6" />
<text x="663.3" y="53.5" font-size="7.2" fill="#2e3192" text-anchor="start" font-weight="normal" font-style="normal" dominant-baseline="central" >2</text>
<line x1="656" y1="26.2" x2="662.7" y2="26.2" stroke="#2e3192" stroke-width="1.6" />
<text x="663.3" y="25.7" font-size="7.2" fill="#2e3192" text-anchor="start" font-weight="normal" font-style="normal" dominant-baseline="central" >10</text>
<line x1="656" y1="15.7" x2="659.2" y2="15.7" stroke="#2e3192" stroke-width="1.5" />
<line x1="656" y1="19.2" x2="659.2" y2="19.2" stroke="#2e3192" stroke-width="1.5" />
<line x1="656" y1="22.8" x2="659.2" y2="22.8" stroke="#2e3192" stroke-width="1.5" />
<line x1="656" y1="29.8" x2="659.2" y2="29.8" stroke="#2e3192" stroke-width="1.5" />
<line x1="656" y1="33.3" x2="659.2" y2="33.3" stroke="#2e3192" stroke-width="1.5" />
<line x1="656" y1="36.7" x2="659.2" y2="36.7" stroke="#2e3192" stroke-width="1.5" />
<line x1="656" y1="40.1" x2="659.2" y2="40.1" stroke="#2e3192" stroke-width="1.5" />
<line x1="656" y1="43.5" x2="659.2" y2="43.5" stroke="#2e3192" stroke-width="1.5" />
<line x1="656" y1="47" x2="659.2" y2="47" stroke="#2e3192" stroke-width="1.5" />
<line x1="656" y1="50.5" x2="659.2" y2="50.5" stroke="#2e3192" stroke-width="1.5" />
<text x="675.3" y="65" font-size="10" fill="#231f20" text-anchor="middle" font-weight="bold" font-style="normal" dominant-baseline="central" >a</text>
<text x="676" y="96.6" font-size="8.9" fill="#2e3192" text-anchor="middle" font-weight="normal" font-style="normal" dominant-baseline="central" transform="rotate(90 676 96.6)" >g•cm<tspan font-size="5.5" dy="-3">-2</tspan><tspan dy="3">•kyr</tspan><tspan font-size="5.5" dy="-3">-1</tspan></text>
<text x="539.9" y="115" font-size="8.9" fill="#68863a" text-anchor="middle" font-weight="bold" font-style="normal" dominant-baseline="central" >Fine dust</text>
<text x="539.8" y="124.5" font-size="7.5" fill="#231f20" text-anchor="middle" font-weight="normal" font-style="normal" dominant-baseline="central" >(EM3)</text>
<line x1="24.3" y1="161.2" x2="31" y2="161.2" stroke="#231f20" stroke-width="1.6" />
<text x="23.2" y="161.2" font-size="8" fill="#231f20" text-anchor="end" font-weight="normal" font-style="normal" dominant-baseline="central" >0</text>
<line x1="24.3" y1="234.7" x2="31" y2="234.7" stroke="#231f20" stroke-width="1.6" />
<text x="23.2" y="234.7" font-size="8" fill="#231f20" text-anchor="end" font-weight="normal" font-style="normal" dominant-baseline="central" >5</text>
<line x1="24.3" y1="308.8" x2="31" y2="308.8" stroke="#231f20" stroke-width="1.6" />
<text x="23.2" y="308.8" font-size="8" fill="#231f20" text-anchor="end" font-weight="normal" font-style="normal" dominant-baseline="central" >10</text>
<text x="6.5" y="181" font-size="10" fill="#231f20" text-anchor="middle" font-weight="bold" font-style="normal" dominant-baseline="central" >b</text>
<text x="6.2" y="234.4" font-size="9" fill="#231f20" text-anchor="middle" font-weight="normal" font-style="normal" dominant-baseline="central" transform="rotate(-90 6.2 234.4)" >m vs. modern</text>
<line x1="76.2" y1="210.3" x2="82.5" y2="210.3" stroke="#231f20" stroke-width="1.4" />
<text x="74.3" y="210.3" font-size="7.35" fill="#231f20" text-anchor="end" font-weight="normal" font-style="normal" dominant-baseline="central" >-15</text>
<line x1="76.2" y1="247.6" x2="82.5" y2="247.6" stroke="#231f20" stroke-width="1.4" />
<text x="74.3" y="247.6" font-size="7.35" fill="#231f20" text-anchor="end" font-weight="normal" font-style="normal" dominant-baseline="central" >-15.5</text>
<line x1="76.2" y1="284.2" x2="82.5" y2="284.2" stroke="#231f20" stroke-width="1.4" />
<text x="74.3" y="284.2" font-size="7.35" fill="#231f20" text-anchor="end" font-weight="normal" font-style="normal" dominant-baseline="central" >-16</text>
<line x1="76.2" y1="322" x2="82.5" y2="322" stroke="#231f20" stroke-width="1.4" />
<text x="74.3" y="322" font-size="7.35" fill="#231f20" text-anchor="end" font-weight="normal" font-style="normal" dominant-baseline="central" >-16.5</text>
<line x1="76.2" y1="359" x2="82.5" y2="359" stroke="#231f20" stroke-width="1.4" />
<text x="74.3" y="359" font-size="7.35" fill="#231f20" text-anchor="end" font-weight="normal" font-style="normal" dominant-baseline="central" >-17</text>
<text x="53" y="244.7" font-size="10" fill="#231f20" text-anchor="middle" font-weight="bold" font-style="normal" dominant-baseline="central" >c</text>
<text x="59.5" y="262.5" font-size="9" fill="#231f20" text-anchor="middle" font-weight="normal" font-style="normal" dominant-baseline="central" transform="rotate(-90 59.5 262.5)" >δ<tspan font-size="6" dy="-1.5">18</tspan><tspan dy="1.5">O</tspan></text>
<rect x="620.5" y="216" width="26" height="37.5" fill="#ffffff" />
<rect x="620.5" y="294" width="26" height="37.5" fill="#ffffff" />
<line x1="617.6" y1="218.3" x2="617.6" y2="232.8" stroke="#231f20" stroke-width="1.4" />
<line x1="617.6" y1="236.6" x2="617.6" y2="251.2" stroke="#231f20" stroke-width="1.4" />
<polygon points="615.2,220.3 617.6,215.3 620.0,220.3" fill="#231f20"/>
<polygon points="615.2,249.2 617.6,254.2 620.0,249.2" fill="#231f20"/>
<text x="621.7" y="227.5" font-size="7.5" fill="#231f20" text-anchor="start" font-weight="normal" font-style="normal" dominant-baseline="central" >drier</text>
<text x="623.5" y="243.8" font-size="7.5" fill="#231f20" text-anchor="start" font-weight="normal" font-style="normal" dominant-baseline="central" >wetter</text>
<line x1="617.6" y1="295.4" x2="617.6" y2="310" stroke="#231f20" stroke-width="1.4" />
<line x1="617.6" y1="313.7" x2="617.6" y2="328.3" stroke="#231f20" stroke-width="1.4" />
<polygon points="615.2,297.4 617.6,292.4 620.0,297.4" fill="#231f20"/>
<polygon points="615.2,326.3 617.6,331.3 620.0,326.3" fill="#231f20"/>
<text x="621.7" y="304.6" font-size="7.5" fill="#231f20" text-anchor="start" font-weight="normal" font-style="normal" dominant-baseline="central" >drier</text>
<text x="623.5" y="319.8" font-size="7.5" fill="#231f20" text-anchor="start" font-weight="normal" font-style="normal" dominant-baseline="central" >wetter</text>
<text x="526" y="240.2" font-size="8.9" fill="#231f20" text-anchor="middle" font-weight="normal" font-style="normal" dominant-baseline="central" >Devils Hole, NV</text>
<text x="525" y="251.2" font-size="8.9" fill="#231f20" text-anchor="middle" font-weight="normal" font-style="normal" dominant-baseline="central" >water table</text>
<text x="535.4" y="300.3" font-size="8.9" fill="#231f20" text-anchor="middle" font-weight="normal" font-style="normal" dominant-baseline="central" >Devils Hole, NV</text>
<text x="533.6" y="311.2" font-size="8.9" fill="#231f20" text-anchor="middle" font-weight="normal" font-style="normal" dominant-baseline="central" >mammillary calcite</text>
<text x="528.9" y="408.1" font-size="8.85" fill="#231f20" text-anchor="middle" font-weight="normal" font-style="normal" dominant-baseline="central" >Bear Lake, UT-ID pollen</text>
<line x1="656" y1="273.4" x2="662" y2="273.4" stroke="#231f20" stroke-width="1.6" />
<text x="664" y="273.4" font-size="7.5" fill="#231f20" text-anchor="start" font-weight="normal" font-style="normal" dominant-baseline="central" >60</text>
<line x1="656" y1="319.6" x2="662" y2="319.6" stroke="#231f20" stroke-width="1.6" />
<text x="664" y="319.6" font-size="7.5" fill="#231f20" text-anchor="start" font-weight="normal" font-style="normal" dominant-baseline="central" >40</text>
<line x1="656" y1="364.6" x2="662" y2="364.6" stroke="#231f20" stroke-width="1.6" />
<text x="664" y="364.6" font-size="7.5" fill="#231f20" text-anchor="start" font-weight="normal" font-style="normal" dominant-baseline="central" >20</text>
<line x1="656" y1="410.8" x2="662" y2="410.8" stroke="#231f20" stroke-width="1.6" />
<text x="664" y="410.8" font-size="7.5" fill="#231f20" text-anchor="start" font-weight="normal" font-style="normal" dominant-baseline="central" >0</text>
<text x="681.3" y="329.5" font-size="10" fill="#231f20" text-anchor="middle" font-weight="bold" font-style="normal" dominant-baseline="central" >d</text>
<text x="681" y="375.5" font-size="8.85" fill="#231f20" text-anchor="middle" font-weight="normal" font-style="normal" dominant-baseline="central" transform="rotate(90 681 375.5)" >% warm-arid taxa</text>
<line x1="24.8" y1="391.6" x2="31" y2="391.6" stroke="#231f20" stroke-width="1.3" />
<text x="22.7" y="391.6" font-size="7.2" fill="#231f20" text-anchor="end" font-weight="normal" font-style="normal" dominant-baseline="central" >3</text>
<line x1="24.8" y1="410.1" x2="31" y2="410.1" stroke="#231f20" stroke-width="1.3" />
<text x="22.7" y="410.1" font-size="7.2" fill="#231f20" text-anchor="end" font-weight="normal" font-style="normal" dominant-baseline="central" >2</text>
<line x1="24.8" y1="433.2" x2="31" y2="433.2" stroke="#231f20" stroke-width="1.3" />
<text x="22.7" y="433.2" font-size="7.2" fill="#231f20" text-anchor="end" font-weight="normal" font-style="normal" dominant-baseline="central" >0.75</text>
<line x1="24.8" y1="456.7" x2="31" y2="456.7" stroke="#231f20" stroke-width="1.3" />
<text x="22.7" y="456.7" font-size="7.2" fill="#231f20" text-anchor="end" font-weight="normal" font-style="normal" dominant-baseline="central" >0.5</text>
<line x1="24.8" y1="480.1" x2="31" y2="480.1" stroke="#231f20" stroke-width="1.3" />
<text x="22.7" y="480.1" font-size="7.2" fill="#231f20" text-anchor="end" font-weight="normal" font-style="normal" dominant-baseline="central" >0.25</text>
<line x1="24.8" y1="503.5" x2="31" y2="503.5" stroke="#231f20" stroke-width="1.3" />
<text x="22.7" y="503.5" font-size="7.2" fill="#231f20" text-anchor="end" font-weight="normal" font-style="normal" dominant-baseline="central" >0</text>
<line x1="26.3" y1="396.3" x2="31" y2="396.3" stroke="#808285" stroke-width="1" />
<line x1="26.3" y1="400.6" x2="31" y2="400.6" stroke="#808285" stroke-width="1" />
<line x1="26.3" y1="405.6" x2="31" y2="405.6" stroke="#808285" stroke-width="1" />
<line x1="26.3" y1="414.1" x2="31" y2="414.1" stroke="#808285" stroke-width="1" />
<line x1="26.3" y1="419" x2="31" y2="419" stroke="#808285" stroke-width="1" />
<line x1="26.3" y1="424" x2="31" y2="424" stroke="#808285" stroke-width="1" />
<line x1="26.3" y1="428.3" x2="31" y2="428.3" stroke="#808285" stroke-width="1" />
<text x="7.1" y="398.2" font-size="10" fill="#231f20" text-anchor="middle" font-weight="bold" font-style="normal" dominant-baseline="central" >e</text>
<text x="528.7" y="460.8" font-size="8.9" fill="#2b5d78" text-anchor="middle" font-weight="bold" font-style="normal" dominant-baseline="central" >Coarse dust</text>
<text x="528.7" y="470.4" font-size="7.5" fill="#231f20" text-anchor="middle" font-weight="normal" font-style="normal" dominant-baseline="central" >(EM4)</text>
<text x="535.9" y="514.4" font-size="8.85" fill="#231f20" text-anchor="middle" font-weight="normal" font-style="italic" dominant-baseline="central" >previous est.</text>
<text x="537.8" y="524.8" font-size="8.85" fill="#231f20" text-anchor="middle" font-weight="normal" font-style="italic" dominant-baseline="central" >proposed age</text>
<rect x="584" y="520.6" width="61" height="18" fill="#ffffff" />
<text x="584.5" y="515.5" font-size="8.85" fill="#231f20" text-anchor="start" font-weight="normal" font-style="normal" dominant-baseline="central" >Verde Valley</text>
<text x="584.5" y="524.8" font-size="8.85" fill="#231f20" text-anchor="start" font-weight="normal" font-style="normal" dominant-baseline="central" >alluvial and</text>
<text x="584.5" y="533.9" font-size="8.85" fill="#231f20" text-anchor="start" font-weight="normal" font-style="normal" dominant-baseline="central" >fluvial deposits</text>
<text x="647.8" y="526.6" font-size="10" fill="#231f20" text-anchor="middle" font-weight="bold" font-style="normal" dominant-baseline="central" >f</text>
<text x="501.9" y="549" font-size="8.85" fill="#231f20" text-anchor="start" font-weight="normal" font-style="normal" dominant-baseline="central" >Colorado R.</text>
<text x="501.9" y="557.7" font-size="8.85" fill="#231f20" text-anchor="start" font-weight="normal" font-style="normal" dominant-baseline="central" >fluvial deposits</text>
<text x="565.1" y="550" font-size="10" fill="#231f20" text-anchor="middle" font-weight="bold" font-style="normal" dominant-baseline="central" >g</text>
<line x1="656" y1="572.4" x2="661.6" y2="572.4" stroke="#231f20" stroke-width="1.3" />
<text x="663.3" y="572.4" font-size="7.2" fill="#231f20" text-anchor="start" font-weight="normal" font-style="normal" dominant-baseline="central" >50</text>
<line x1="656" y1="588.5" x2="661.6" y2="588.5" stroke="#231f20" stroke-width="1.3" />
<text x="663.3" y="588.5" font-size="7.2" fill="#231f20" text-anchor="start" font-weight="normal" font-style="normal" dominant-baseline="central" >10</text>
<line x1="656" y1="627.6" x2="661.6" y2="627.6" stroke="#231f20" stroke-width="1.3" />
<line x1="656" y1="665.7" x2="661.6" y2="665.7" stroke="#231f20" stroke-width="1.3" />
<text x="663.3" y="665.7" font-size="7.2" fill="#231f20" text-anchor="start" font-weight="normal" font-style="normal" dominant-baseline="central" >0</text>
<line x1="656" y1="563.7" x2="659.6" y2="563.7" stroke="#231f20" stroke-width="1.1" />
<line x1="656" y1="566.5" x2="659.6" y2="566.5" stroke="#231f20" stroke-width="1.1" />
<line x1="656" y1="569.4" x2="659.6" y2="569.4" stroke="#231f20" stroke-width="1.1" />
<line x1="656" y1="576.4" x2="659.6" y2="576.4" stroke="#231f20" stroke-width="1.1" />
<line x1="656" y1="580.3" x2="659.6" y2="580.3" stroke="#231f20" stroke-width="1.1" />
<line x1="656" y1="584.2" x2="659.6" y2="584.2" stroke="#231f20" stroke-width="1.1" />
<text x="676.4" y="599" font-size="10" fill="#231f20" text-anchor="middle" font-weight="bold" font-style="normal" dominant-baseline="central" >h</text>
<text x="670.3" y="630" font-size="8.9" fill="#231f20" text-anchor="middle" font-weight="normal" font-style="normal" dominant-baseline="central" transform="rotate(90 670.3 630)" >g·cm<tspan font-size="5.5" dy="-3">-2</tspan><tspan dy="3">·kyr</tspan><tspan font-size="5.5" dy="-3">-1</tspan></text>
<text x="517.7" y="623" font-size="8.9" fill="#f3a37b" text-anchor="middle" font-weight="bold" font-style="normal" dominant-baseline="central" >Local erosion</text>
<text x="517.7" y="633" font-size="7.4" fill="#231f20" text-anchor="middle" font-weight="normal" font-style="normal" dominant-baseline="central" >(EM1+EM2+EM5)</text>
<line x1="468.4" y1="670.5" x2="468.4" y2="684.2" stroke="#231f20" stroke-width="1.2" />
<polygon points="466.2,671.5 468.4,667.8 470.6,671.5" fill="#231f20"/>
<text x="472.5" y="678.5" font-size="7.75" fill="#231f20" text-anchor="start" font-weight="normal" font-style="normal" dominant-baseline="central" >forest fire activity</text>
<text x="462" y="695.3" font-size="9" fill="#231f20" text-anchor="start" font-weight="normal" font-style="normal" dominant-baseline="central" >Large charcoal particles</text>
<line x1="25" y1="602.7" x2="31" y2="602.7" stroke="#231f20" stroke-width="1.3" />
<text x="22.5" y="602.7" font-size="7.2" fill="#231f20" text-anchor="end" font-weight="normal" font-style="normal" dominant-baseline="central" >1000</text>
<line x1="25" y1="620.3" x2="31" y2="620.3" stroke="#231f20" stroke-width="1.3" />
<text x="22.5" y="620.3" font-size="7.2" fill="#231f20" text-anchor="end" font-weight="normal" font-style="normal" dominant-baseline="central" >400</text>
<line x1="25" y1="656.3" x2="31" y2="656.3" stroke="#231f20" stroke-width="1.3" />
<text x="22.5" y="656.3" font-size="7.2" fill="#231f20" text-anchor="end" font-weight="normal" font-style="normal" dominant-baseline="central" >200</text>
<line x1="25" y1="691.5" x2="31" y2="691.5" stroke="#231f20" stroke-width="1.3" />
<text x="22.5" y="691.5" font-size="7.2" fill="#231f20" text-anchor="end" font-weight="normal" font-style="normal" dominant-baseline="central" >0</text>
<line x1="28" y1="595.4" x2="31" y2="595.4" stroke="#231f20" stroke-width="0.9" />
<line x1="28" y1="597.1999999999999" x2="31" y2="597.1999999999999" stroke="#231f20" stroke-width="0.9" />
<line x1="28" y1="598.9999999999999" x2="31" y2="598.9999999999999" stroke="#231f20" stroke-width="0.9" />
<line x1="28" y1="600.7999999999998" x2="31" y2="600.7999999999998" stroke="#231f20" stroke-width="0.9" />
<line x1="28" y1="604.3999999999997" x2="31" y2="604.3999999999997" stroke="#231f20" stroke-width="0.9" />
<line x1="28" y1="606.1999999999997" x2="31" y2="606.1999999999997" stroke="#231f20" stroke-width="0.9" />
<line x1="28" y1="607.9999999999997" x2="31" y2="607.9999999999997" stroke="#231f20" stroke-width="0.9" />
<line x1="28" y1="609.7999999999996" x2="31" y2="609.7999999999996" stroke="#231f20" stroke-width="0.9" />
<line x1="28" y1="611.5999999999996" x2="31" y2="611.5999999999996" stroke="#231f20" stroke-width="0.9" />
<line x1="28" y1="613.3999999999995" x2="31" y2="613.3999999999995" stroke="#231f20" stroke-width="0.9" />
<line x1="28" y1="615.1999999999995" x2="31" y2="615.1999999999995" stroke="#231f20" stroke-width="0.9" />
<line x1="28" y1="616.9999999999994" x2="31" y2="616.9999999999994" stroke="#231f20" stroke-width="0.9" />
<line x1="28" y1="618.7999999999994" x2="31" y2="618.7999999999994" stroke="#231f20" stroke-width="0.9" />
<text x="3" y="612" font-size="10" fill="#231f20" text-anchor="middle" font-weight="bold" font-style="normal" dominant-baseline="central" >i</text>
<text x="4.6" y="659.3" font-size="9" fill="#231f20" text-anchor="middle" font-weight="normal" font-style="normal" dominant-baseline="central" transform="rotate(-90 4.6 659.3)" >Charcoal count</text>
<text x="462" y="709.7" font-size="7" fill="#231f20" text-anchor="start" font-weight="normal" font-style="normal" dominant-baseline="central" >100</text>
<text x="462" y="756.3" font-size="7" fill="#231f20" text-anchor="start" font-weight="normal" font-style="normal" dominant-baseline="central" >50</text>
<text x="462" y="797.5" font-size="7" fill="#231f20" text-anchor="start" font-weight="normal" font-style="normal" dominant-baseline="central" >0</text>
<text x="482.5" y="756.3" font-size="9.5" fill="#231f20" text-anchor="middle" font-weight="normal" font-style="normal" dominant-baseline="central" >%</text>
<text x="498" y="739.7" font-size="10" fill="#231f20" text-anchor="middle" font-weight="bold" font-style="normal" dominant-baseline="central" >j</text>
<text x="495.2" y="756.3" font-size="8.8" fill="#231f20" text-anchor="start" font-weight="normal" font-style="normal" dominant-baseline="central" >Tree taxa</text>
<line x1="470.3" y1="803" x2="470.3" y2="819" stroke="#231f20" stroke-width="2.2" />
<line x1="470" y1="803" x2="474.7" y2="803" stroke="#231f20" stroke-width="1.8" />
<line x1="470" y1="806.2" x2="473.2" y2="806.2" stroke="#231f20" stroke-width="1.5" />
<line x1="470" y1="809.4" x2="473.2" y2="809.4" stroke="#231f20" stroke-width="1.5" />
<line x1="470" y1="812.6" x2="473.2" y2="812.6" stroke="#231f20" stroke-width="1.5" />
<line x1="470" y1="815.8" x2="473.2" y2="815.8" stroke="#231f20" stroke-width="1.5" />
<line x1="470" y1="819" x2="474.7" y2="819" stroke="#231f20" stroke-width="1.8" />
<text x="476.5" y="803" font-size="7.3" fill="#231f20" text-anchor="start" font-weight="normal" font-style="normal" dominant-baseline="central" >150</text>
<text x="476.5" y="819" font-size="7.3" fill="#231f20" text-anchor="start" font-weight="normal" font-style="normal" dominant-baseline="central" >40</text>
<line x1="469.6" y1="847" x2="474.7" y2="847" stroke="#231f20" stroke-width="1.5" />
<text x="476.5" y="847" font-size="7.3" fill="#231f20" text-anchor="start" font-weight="normal" font-style="normal" dominant-baseline="central" >20</text>
<line x1="469.6" y1="875.2" x2="474.7" y2="875.2" stroke="#231f20" stroke-width="1.5" />
<text x="476.5" y="875.2" font-size="7.3" fill="#231f20" text-anchor="start" font-weight="normal" font-style="normal" dominant-baseline="central" >0</text>
<line x1="469.6" y1="890" x2="474.7" y2="890" stroke="#231f20" stroke-width="1.5" />
<text x="476.5" y="890" font-size="7.3" fill="#231f20" text-anchor="start" font-weight="normal" font-style="normal" dominant-baseline="central" >-10</text>
<line x1="499.6" y1="832" x2="499.6" y2="847.4" stroke="#231f20" stroke-width="1.5" />
<line x1="499.6" y1="851" x2="499.6" y2="866.5" stroke="#231f20" stroke-width="1.5" />
<polygon points="497.20000000000005,833.5 499.6,830 502.0,833.5" fill="#231f20"/>
<polygon points="497.20000000000005,865 499.6,868.5 502.0,865" fill="#231f20"/>
<text x="503.9" y="841.7" font-size="7.5" fill="#231f20" text-anchor="start" font-weight="normal" font-style="normal" dominant-baseline="central" >wetter</text>
<text x="503.9" y="859.5" font-size="7.5" fill="#231f20" text-anchor="start" font-weight="normal" font-style="normal" dominant-baseline="central" >drier</text>
<text x="545.4" y="830.9" font-size="10" fill="#231f20" text-anchor="middle" font-weight="bold" font-style="normal" dominant-baseline="central" >k</text>
<text x="549.3" y="844.8" font-size="8.9" fill="#231f20" text-anchor="middle" font-weight="normal" font-style="normal" dominant-baseline="central" >nPC1:</text>
<text x="549.3" y="853.3" font-size="8.9" fill="#231f20" text-anchor="middle" font-weight="normal" font-style="normal" dominant-baseline="central" >lake depth</text>
</svg></body></html>
